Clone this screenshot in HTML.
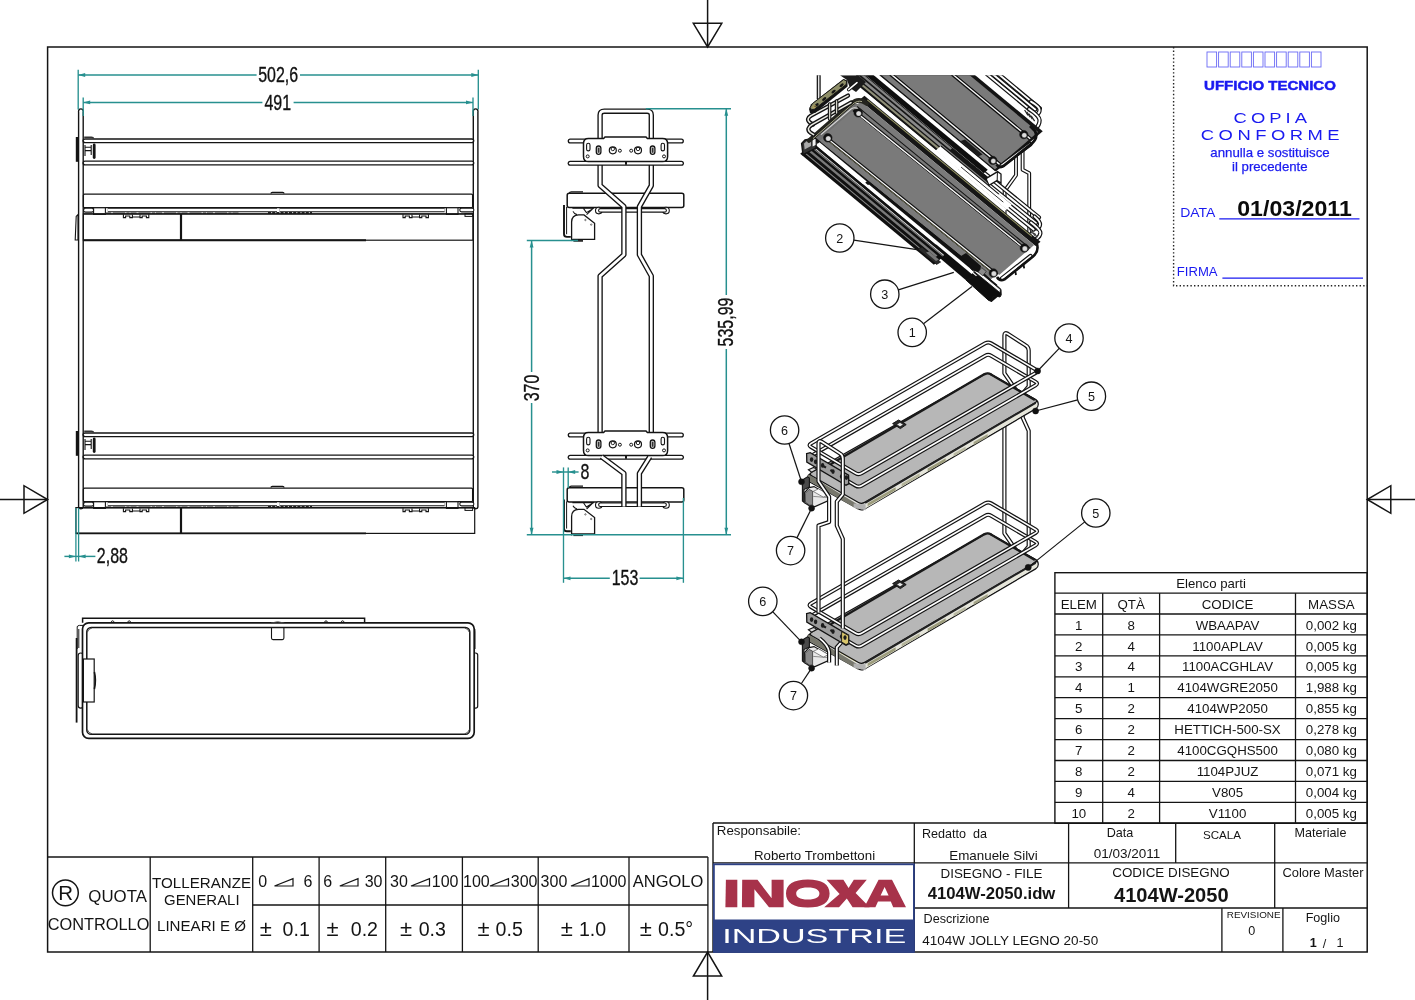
<!DOCTYPE html>
<html><head><meta charset="utf-8"><title>4104W-2050</title>
<style>
html,body{margin:0;padding:0;background:#fff;}
body{width:1415px;height:1000px;overflow:hidden;font-family:"Liberation Sans",sans-serif;}
svg{display:block;font-family:"Liberation Sans",sans-serif;will-change:transform;}
</style></head><body>
<svg width="1415" height="1000" viewBox="0 0 1415 1000">
<rect x="0" y="0" width="1415" height="1000" fill="#ffffff"/>
<clipPath id="isoclip"><rect x="780" y="75.3" width="300" height="260"/></clipPath>
<g clip-path="url(#isoclip)">
<path d="M942.9,37.5 L1030.3,110.0" fill="none" stroke="#141414" stroke-width="4.3" stroke-linejoin="round" stroke-linecap="round"/>
<path d="M942.9,37.5 L1030.3,110.0" fill="none" stroke="#fff" stroke-width="1.9" stroke-linejoin="round" stroke-linecap="round"/>
<path d="M945.6,35.2 L1035.2,109.5" fill="none" stroke="#141414" stroke-width="4.3" stroke-linejoin="round" stroke-linecap="round"/>
<path d="M945.6,35.2 L1035.2,109.5" fill="none" stroke="#fff" stroke-width="1.9" stroke-linejoin="round" stroke-linecap="round"/>
<path d="M948.6,32.6 L1039.8,108.4" fill="none" stroke="#141414" stroke-width="4.3" stroke-linejoin="round" stroke-linecap="round"/>
<path d="M948.6,32.6 L1039.8,108.4" fill="none" stroke="#fff" stroke-width="1.9" stroke-linejoin="round" stroke-linecap="round"/>
<path d="M1031.0,101.6 Q1039.6,106.6 1039.6,110.0 Q1039.6,113.0 1036.6,114.6" fill="none" stroke="#141414" stroke-width="4.3" stroke-linejoin="round" stroke-linecap="round"/>
<path d="M1031.0,101.6 Q1039.6,106.6 1039.6,110.0 Q1039.6,113.0 1036.6,114.6" fill="none" stroke="#fff" stroke-width="1.9" stroke-linejoin="round" stroke-linecap="round"/>
<path d="M1029.0,109.0 Q1039.4,116.0 1039.6,120.0 Q1039.6,125.0 1035.6,128.6" fill="none" stroke="#141414" stroke-width="4.3" stroke-linejoin="round" stroke-linecap="round"/>
<path d="M1029.0,109.0 Q1039.4,116.0 1039.6,120.0 Q1039.6,125.0 1035.6,128.6" fill="none" stroke="#fff" stroke-width="1.9" stroke-linejoin="round" stroke-linecap="round"/>
<line x1="1024.60" y1="110.00" x2="1028.00" y2="115.40" stroke="#222" stroke-width="1.2" />
<line x1="1026.80" y1="111.90" x2="1030.20" y2="117.30" stroke="#222" stroke-width="1.2" />
<line x1="1029.00" y1="113.80" x2="1032.40" y2="119.20" stroke="#222" stroke-width="1.2" />
<line x1="1031.20" y1="115.70" x2="1034.60" y2="121.10" stroke="#222" stroke-width="1.2" />
<path d="M1016.0,156.0 V175.2 L1004.6,191.0 V214.0" fill="none" stroke="#141414" stroke-width="3.9" stroke-linejoin="round" stroke-linecap="round"/>
<path d="M1016.0,156.0 V175.2 L1004.6,191.0 V214.0" fill="none" stroke="#fff" stroke-width="1.6" stroke-linejoin="round" stroke-linecap="round"/>
<path d="M1022.6,150.0 V169.8 L1029.2,173.2 V232.0" fill="none" stroke="#141414" stroke-width="3.9" stroke-linejoin="round" stroke-linecap="round"/>
<path d="M1022.6,150.0 V169.8 L1029.2,173.2 V232.0" fill="none" stroke="#fff" stroke-width="1.6" stroke-linejoin="round" stroke-linecap="round"/>
<path d="M976.5,166.7 L1038.9,217.3" fill="none" stroke="#141414" stroke-width="4.3" stroke-linejoin="round" stroke-linecap="round"/>
<path d="M976.5,166.7 L1038.9,217.3" fill="none" stroke="#fff" stroke-width="1.9" stroke-linejoin="round" stroke-linecap="round"/>
<path d="M971.7,170.9 L1035.9,222.9" fill="none" stroke="#141414" stroke-width="4.3" stroke-linejoin="round" stroke-linecap="round"/>
<path d="M971.7,170.9 L1035.9,222.9" fill="none" stroke="#fff" stroke-width="1.9" stroke-linejoin="round" stroke-linecap="round"/>
<path d="M960.0,169.8 L1033.7,229.5" fill="none" stroke="#141414" stroke-width="4.3" stroke-linejoin="round" stroke-linecap="round"/>
<path d="M960.0,169.8 L1033.7,229.5" fill="none" stroke="#fff" stroke-width="1.9" stroke-linejoin="round" stroke-linecap="round"/>
<path d="M1034.6,216.6 Q1040.4,221.6 1040.0,224.6 Q1039.6,227.6 1036.6,228.4" fill="none" stroke="#141414" stroke-width="4.3" stroke-linejoin="round" stroke-linecap="round"/>
<path d="M1034.6,216.6 Q1040.4,221.6 1040.0,224.6 Q1039.6,227.6 1036.6,228.4" fill="none" stroke="#fff" stroke-width="1.9" stroke-linejoin="round" stroke-linecap="round"/>
<path d="M1031.0,222.4 Q1040.6,229.6 1040.4,233.0 Q1040.0,236.6 1036.6,238.6" fill="none" stroke="#141414" stroke-width="4.3" stroke-linejoin="round" stroke-linecap="round"/>
<path d="M1031.0,222.4 Q1040.6,229.6 1040.4,233.0 Q1040.0,236.6 1036.6,238.6" fill="none" stroke="#fff" stroke-width="1.9" stroke-linejoin="round" stroke-linecap="round"/>
<line x1="1029.60" y1="229.00" x2="1032.40" y2="233.60" stroke="#333" stroke-width="1.1" />
<line x1="1032.00" y1="231.00" x2="1034.80" y2="235.60" stroke="#333" stroke-width="1.1" />
<line x1="1034.40" y1="233.00" x2="1037.20" y2="237.60" stroke="#333" stroke-width="1.1" />
<path d="M895.74,9.26 L1042.77,131.30 L995.91,171.60 L848.88,49.57 Z" fill="#141414" stroke="none" stroke-width="0" />
<path d="M893.02,11.60 L1038.03,131.97 L1031.52,137.57 L886.51,17.20 Z" fill="#7a7a7a" stroke="none" stroke-width="0" />
<path d="M886.39,17.30 L1031.41,137.67 L1028.92,139.80 L883.91,19.44 Z" fill="#0c0c0c" stroke="none" stroke-width="0" />
<path d="M885.68,17.91 L1030.70,138.28 L1029.69,139.14 L884.67,18.78 Z" fill="#f8f8f8" stroke="none" stroke-width="0" />
<path d="M883.67,19.64 L1028.68,140.01 L1001.35,163.52 L856.33,43.16 Z" fill="#7a7a7a" stroke="none" stroke-width="0" />
<path d="M856.21,43.26 L1001.23,163.62 L998.62,165.86 L853.61,45.50 Z" fill="#0c0c0c" stroke="none" stroke-width="0" />
<path d="M855.50,43.87 L1000.52,164.23 L999.39,165.20 L854.38,44.83 Z" fill="#f8f8f8" stroke="none" stroke-width="0" />
<path d="M853.37,45.70 L998.58,166.22 L994.79,169.48 L849.59,48.96 Z" fill="#7a7a7a" stroke="none" stroke-width="0" />
<path d="M848.88,49.57 L994.15,170.15 L991.20,172.69 L845.92,52.11 Z" fill="#ffffff" stroke="none" stroke-width="0" />
<line x1="849.11" y1="49.36" x2="995.24" y2="170.65" stroke="#141414" stroke-width="1.2" />
<path d="M845.92,52.11 L987.79,169.86 L983.76,173.32 L841.89,55.57 Z" fill="#0e0e0e" stroke="none" stroke-width="0" />
<path d="M861.05,71.47 L991.38,179.65 L981.56,188.10 L851.23,79.92 Z" fill="#151515" stroke="none" stroke-width="0" />
<path d="M860.34,72.08 L952.07,148.22 L950.41,149.64 L858.68,73.51 Z" fill="#858585" stroke="none" stroke-width="0" />
<path d="M857.38,74.63 L987.72,182.80 L985.70,184.53 L855.37,76.36 Z" fill="#8a8a8a" stroke="none" stroke-width="0" />
<path d="M854.42,77.17 L984.76,185.35 L983.10,186.77 L852.77,78.60 Z" fill="#8f8f78" stroke="none" stroke-width="0" />
<path d="M940.96,146.00 L1011.83,204.82 L1006.51,209.40 L935.63,150.58 Z" fill="#ffffff" stroke="none" stroke-width="0" />
<line x1="940.96" y1="146.00" x2="998.89" y2="194.08" stroke="#141414" stroke-width="1.1" />
<line x1="961.07" y1="167.08" x2="1003.31" y2="202.15" stroke="#333" stroke-width="1.0" />
<path d="M986.00,178.60 L997.60,171.60 L1001.00,174.00 L1001.00,183.00 L997.00,180.60 L989.00,185.40 Z" fill="#fff" stroke="#141414" stroke-width="1.3" />
<line x1="997.40" y1="172.00" x2="997.20" y2="180.60" stroke="#141414" stroke-width="1.0" />
<path d="M1001.6,165.6 L1030.0,144.4" fill="none" stroke="#141414" stroke-width="4.8" stroke-linejoin="round" stroke-linecap="round"/>
<path d="M1001.6,165.6 L1030.0,144.4" fill="none" stroke="#fff" stroke-width="2.0" stroke-linejoin="round" stroke-linecap="round"/>
<path d="M996.6,164.6 Q998.8,168.4 1003.4,166.0 L1032.0,143.4 Q1038.4,137.6 1035.0,131.0 L1030.0,126.0" fill="none" stroke="#111" stroke-width="2.8" />
<circle cx="1023.80" cy="134.60" r="4.20" fill="#111" stroke="#141414" stroke-width="0.5"/>
<circle cx="1024.30" cy="135.30" r="2.50" fill="#dcdcdc" stroke="#141414" stroke-width="0.3"/>
<circle cx="992.80" cy="160.40" r="4.20" fill="#111" stroke="#141414" stroke-width="0.5"/>
<circle cx="993.30" cy="161.10" r="2.50" fill="#dcdcdc" stroke="#141414" stroke-width="0.3"/>
<path d="M960.60,141.00 L965.00,139.60 L982.60,154.60 L978.00,156.60 Z" fill="#1b1b1b" stroke="none" stroke-width="0" />
<path d="M865.14,91.86 L1006.63,209.30 L1003.91,211.64 L862.41,94.20 Z" fill="#ffffff" stroke="none" stroke-width="0" />
<path d="M810.00,141.00 L853.00,103.40 L866.00,105.00 L858.00,113.00 L826.00,139.00 L816.00,146.00 Z" fill="#6f6f6f" stroke="none" stroke-width="0" />
<path d="M864.41,95.66 L1040.52,241.83 L1035.55,246.11 L859.44,99.94 Z" fill="#161616" stroke="none" stroke-width="0" />
<path d="M867.67,99.56 L1032.19,236.12 L1031.48,236.73 L866.96,100.18 Z" fill="#9a9a68" stroke="none" stroke-width="0" />
<path d="M860.99,101.23 L1034.12,244.92 L1028.06,250.13 L852.86,108.22 Z" fill="#7a7a7a" stroke="none" stroke-width="0" />
<line x1="857.12" y1="106.44" x2="1030.15" y2="248.33" stroke="#141414" stroke-width="1.1" />
<path d="M854.86,108.94 L1028.60,249.67 L1025.84,252.03 L852.11,111.31 Z" fill="#0c0c0c" stroke="none" stroke-width="0" />
<path d="M857.41,112.50 L1022.71,246.39 L1021.69,247.27 L856.40,113.38 Z" fill="#f8f8f8" stroke="none" stroke-width="0" />
<path d="M852.45,111.08 L1026.14,251.78 L999.19,274.95 L824.87,134.80 Z" fill="#7a7a7a" stroke="none" stroke-width="0" />
<path d="M827.56,136.26 L998.26,273.50 L995.07,276.24 L824.38,139.00 Z" fill="#0c0c0c" stroke="none" stroke-width="0" />
<path d="M828.45,138.47 L993.22,270.95 L992.20,271.83 L827.43,139.35 Z" fill="#f8f8f8" stroke="none" stroke-width="0" />
<path d="M827.07,139.66 L991.84,272.14 L991.48,272.45 L826.71,139.97 Z" fill="#9a9a68" stroke="none" stroke-width="0" />
<path d="M823.39,137.81 L994.95,275.74 L990.66,279.43 L819.71,140.97 Z" fill="#7a7a7a" stroke="none" stroke-width="0" />
<path d="M815.16,137.28 L997.34,284.85 L992.88,288.69 L812.85,139.27 Z" fill="#111" stroke="none" stroke-width="0" />
<path d="M813.11,142.68 L946.77,253.62 L933.87,264.71 L800.21,153.77 Z" fill="#101010" stroke="none" stroke-width="0" />
<path d="M937.16,243.84 L999.31,295.43 L991.60,302.06 L930.18,249.85 Z" fill="#0e0e0e" stroke="none" stroke-width="0" />
<path d="M819.47,142.16 L866.75,181.40 L863.32,184.35 L816.04,145.11 Z" fill="#ffffff" stroke="none" stroke-width="0" />
<path d="M868.93,184.41 L974.14,271.74 L971.66,273.88 L866.45,186.55 Z" fill="#ffffff" stroke="none" stroke-width="0" />
<path d="M810.98,144.51 L944.12,255.02 L943.41,255.63 L810.27,145.12 Z" fill="#e0e0e0" stroke="none" stroke-width="0" />
<path d="M810.15,145.23 L943.29,255.73 L942.46,256.44 L809.32,145.94 Z" fill="#7a7a7a" stroke="none" stroke-width="0" />
<path d="M807.43,147.57 L937.51,255.54 L935.74,257.06 L805.65,149.09 Z" fill="#7a7a7a" stroke="none" stroke-width="0" />
<path d="M803.41,151.03 L931.46,257.31 L930.75,257.92 L802.70,151.64 Z" fill="#8a8a8a" stroke="none" stroke-width="0" />
<path d="M801.60,143.60 L805.00,140.00 L812.60,138.60 L816.00,142.00 L816.00,148.00 L803.00,154.60 Z" fill="#333" stroke="#141414" stroke-width="1.4" />
<path d="M804.00,143.60 L807.00,141.00 L811.00,140.60 L811.00,146.00 L804.60,149.60 Z" fill="#aaa" stroke="none" stroke-width="0" />
<path d="M812.60,139.40 L815.60,139.00 L815.60,145.00 L812.60,146.40 Z" fill="#f0f0f0" stroke="none" stroke-width="0" />
<path d="M966.00,280.00 L988.60,300.40 L991.60,301.40 L992.60,296.80 L996.00,296.00 L1000.00,297.00 L1001.20,295.00 L1001.00,289.40 L984.00,273.60 Z" fill="#0e0e0e" stroke="#141414" stroke-width="1.0" />
<path d="M970.60,268.60 L972.80,266.40 L1000.40,289.40 L1000.00,292.80 Z" fill="#f6f6f6" stroke="#141414" stroke-width="0.9" />
<path d="M961.00,256.00 L966.00,253.00 L981.00,266.00 L979.60,273.00 L972.00,270.00 Z" fill="#121212" stroke="none" stroke-width="0" />
<rect x="979.60" y="268.60" width="6.00" height="5.60" rx="0" fill="#8a8a8a" stroke="#222" stroke-width="0.6" transform="rotate(40 982 271)"/>
<path d="M917.60,249.00 L922.00,247.00 L940.60,262.00 L936.60,264.40 Z" fill="#2a2a2a" stroke="#141414" stroke-width="0.8" />
<path d="M926.00,252.60 L929.00,251.40 L939.00,259.60 L936.00,261.00 Z" fill="#777" stroke="none" stroke-width="0" />
<path d="M1002.0,278.4 L1030.6,256.0" fill="none" stroke="#141414" stroke-width="4.4" stroke-linejoin="round" stroke-linecap="round"/>
<path d="M1002.0,278.4 L1030.6,256.0" fill="none" stroke="#fff" stroke-width="2.0" stroke-linejoin="round" stroke-linecap="round"/>
<path d="M997.0,277.0 Q999.6,281.6 1004.6,279.4 L1033.0,256.6 Q1039.6,250.6 1036.6,243.0" fill="none" stroke="#111" stroke-width="2.6" />
<line x1="1015.40" y1="271.60" x2="1016.00" y2="275.00" stroke="#111" stroke-width="1.8" />
<line x1="1023.60" y1="265.00" x2="1024.20" y2="268.40" stroke="#111" stroke-width="1.8" />
<circle cx="858.20" cy="112.80" r="4.30" fill="#111" stroke="#141414" stroke-width="0.5"/>
<circle cx="858.70" cy="113.50" r="2.60" fill="#dcdcdc" stroke="#141414" stroke-width="0.3"/>
<circle cx="827.80" cy="137.80" r="4.30" fill="#111" stroke="#141414" stroke-width="0.5"/>
<circle cx="828.30" cy="138.50" r="2.60" fill="#dcdcdc" stroke="#141414" stroke-width="0.3"/>
<circle cx="1024.40" cy="248.00" r="4.30" fill="#111" stroke="#141414" stroke-width="0.5"/>
<circle cx="1024.90" cy="248.70" r="2.60" fill="#dcdcdc" stroke="#141414" stroke-width="0.3"/>
<circle cx="993.40" cy="273.00" r="4.30" fill="#111" stroke="#141414" stroke-width="0.5"/>
<circle cx="993.90" cy="273.70" r="2.60" fill="#dcdcdc" stroke="#141414" stroke-width="0.3"/>
<path d="M809.0,140.6 L851.0,104.0 Q858.6,97.0 866.6,103.6" fill="none" stroke="#24241e" stroke-width="4.4" stroke-linecap="round"/>
<path d="M813.0,138.6 L852.0,104.6 Q857.6,100.0 862.0,101.6" fill="none" stroke="#a8a88a" stroke-width="1.0" />
<path d="M821.0,134.6 L851.0,109.0 Q854.6,106.6 857.6,108.6" fill="none" stroke="#d8d8d8" stroke-width="1.1" />
<path d="M818.7,75.0 V99.0" fill="none" stroke="#141414" stroke-width="4.0" stroke-linecap="butt"/>
<path d="M818.7,75.0 V99.0" fill="none" stroke="#e4e4e4" stroke-width="1.5" stroke-linecap="butt"/>
<path d="M848.0,95.6 L811.0,115.6 Q805.6,119.0 810.0,122.6 L813.0,124.6" fill="none" stroke="#141414" stroke-width="4.3" stroke-linejoin="round" stroke-linecap="round"/>
<path d="M848.0,95.6 L811.0,115.6 Q805.6,119.0 810.0,122.6 L813.0,124.6" fill="none" stroke="#ecece4" stroke-width="1.6" stroke-linejoin="round" stroke-linecap="round"/>
<path d="M851.0,102.6 L812.0,124.6 Q805.6,128.6 810.4,132.6 L813.6,134.6" fill="none" stroke="#141414" stroke-width="4.3" stroke-linejoin="round" stroke-linecap="round"/>
<path d="M851.0,102.6 L812.0,124.6 Q805.6,128.6 810.4,132.6 L813.6,134.6" fill="none" stroke="#ecece4" stroke-width="1.6" stroke-linejoin="round" stroke-linecap="round"/>
<path d="M829.6,104.0 V119.0 M836.6,101.0 V113.0" fill="none" stroke="#141414" stroke-width="3.6" stroke-linejoin="round" stroke-linecap="round"/>
<path d="M829.6,104.0 V119.0 M836.6,101.0 V113.0" fill="none" stroke="#d8d8cc" stroke-width="1.3" stroke-linejoin="round" stroke-linecap="round"/>
<path d="M809.00,109.00 L811.20,104.20 L843.40,79.00 L847.40,80.60 L847.60,86.60 L815.00,113.00 L810.00,113.00 Z" fill="#141414" stroke="none" stroke-width="0" />
<path d="M810.20,107.40 L812.40,103.60 L843.60,79.60 L846.60,81.00 L846.20,84.40 L814.40,109.20 L811.20,109.80 Z" fill="#8e8e68" stroke="#141414" stroke-width="0.9" />
<ellipse cx="816.6" cy="105.0" rx="2.5" ry="1.25" transform="rotate(-38 816.6 105.0)" fill="#151515"/>
<ellipse cx="824.2" cy="99.0" rx="2.5" ry="1.25" transform="rotate(-38 824.2 99.0)" fill="#151515"/>
<ellipse cx="833.6" cy="91.6" rx="2.5" ry="1.25" transform="rotate(-38 833.6 91.6)" fill="#151515"/>
<ellipse cx="841.6" cy="85.2" rx="2.5" ry="1.25" transform="rotate(-38 841.6 85.2)" fill="#151515"/>
<ellipse cx="814.4" cy="106.6" rx="1.6" ry="1.1" transform="rotate(-38 814.4 106.6)" fill="none" stroke="#c8a84e" stroke-width="0.7"/>
<path d="M840.00,75.30 L858.00,75.30 L866.00,82.00 L856.00,92.00 L850.00,88.00 L847.00,80.00 Z" fill="#1b1b1b" stroke="none" stroke-width="0" />
<path d="M848.6,89.6 L857.0,82.6" fill="none" stroke="#141414" stroke-width="3.4" stroke-linejoin="round" stroke-linecap="round"/>
<path d="M848.6,89.6 L857.0,82.6" fill="none" stroke="#fff" stroke-width="1.5" stroke-linejoin="round" stroke-linecap="round"/>
</g>
<line x1="853.84" y1="240.10" x2="918.60" y2="249.80" stroke="#141414" stroke-width="1.2" />
<circle cx="839.80" cy="238.00" r="14.20" fill="#fff" stroke="#141414" stroke-width="1.3"/>
<text x="839.80" y="242.60" font-size="12.6" text-anchor="middle" fill="#141414" font-weight="normal" >2</text>
<line x1="898.34" y1="289.92" x2="953.80" y2="272.40" stroke="#141414" stroke-width="1.2" />
<circle cx="884.80" cy="294.20" r="14.20" fill="#fff" stroke="#141414" stroke-width="1.3"/>
<text x="884.80" y="298.80" font-size="12.6" text-anchor="middle" fill="#141414" font-weight="normal" >3</text>
<line x1="923.47" y1="323.77" x2="972.00" y2="286.60" stroke="#141414" stroke-width="1.2" />
<circle cx="912.20" cy="332.40" r="14.20" fill="#fff" stroke="#141414" stroke-width="1.3"/>
<text x="912.20" y="337.00" font-size="12.6" text-anchor="middle" fill="#141414" font-weight="normal" >1</text>
<path d="M1015.0,412.0 V388.8 L1004.4,373.2 V335.4 Q1004.4,332.0 1007.6,333.7 L1025.5,345.3 Q1028.7,347.0 1028.7,350.6 V386.4 L1022.7,393.6 V412.0" fill="none" stroke="#141414" stroke-width="4.2" stroke-linejoin="round" stroke-linecap="round"/>
<path d="M1015.0,412.0 V388.8 L1004.4,373.2 V335.4 Q1004.4,332.0 1007.6,333.7 L1025.5,345.3 Q1028.7,347.0 1028.7,350.6 V386.4 L1022.7,393.6 V412.0" fill="none" stroke="#fff" stroke-width="1.8" stroke-linejoin="round" stroke-linecap="round"/>
<path d="M1015.0,402.0 V414.0 L1004.4,417.6 V533.2 L1015.0,548.8 V572.0" fill="none" stroke="#141414" stroke-width="4.2" stroke-linejoin="round" stroke-linecap="round"/>
<path d="M1015.0,402.0 V414.0 L1004.4,417.6 V533.2 L1015.0,548.8 V572.0" fill="none" stroke="#fff" stroke-width="1.8" stroke-linejoin="round" stroke-linecap="round"/>
<path d="M1022.7,402.0 V417.6 L1028.7,430.79999999999995 V546.4 L1022.7,553.6 V572.0" fill="none" stroke="#141414" stroke-width="4.2" stroke-linejoin="round" stroke-linecap="round"/>
<path d="M1022.7,402.0 V417.6 L1028.7,430.79999999999995 V546.4 L1022.7,553.6 V572.0" fill="none" stroke="#fff" stroke-width="1.8" stroke-linejoin="round" stroke-linecap="round"/>
<path d="M808.98,474.14 Q811.60,475.60 814.19,474.08 L985.01,374.12 Q987.60,372.60 990.22,374.07 L1035.58,399.53 Q1038.20,401.00 1038.20,404.00 L1038.20,404.40 Q1038.20,407.40 1035.61,408.91 L864.19,509.09 Q861.60,510.60 858.97,509.15 L810.63,482.45 Q808.00,481.00 808.00,478.00 L808.00,476.60 Q808.00,473.60 810.62,475.06 Z" fill="#e4e4e0" stroke="#141414" stroke-width="1.3" />
<path d="M864.60,505.40 L1037.20,403.00 L1037.20,406.60 L864.60,509.00 Z" fill="#e6e6da" stroke="none" stroke-width="0" />
<path d="M867.60,503.33 L895.60,487.13 L895.60,490.13 L867.60,506.33 Z" fill="#9c9c7c" stroke="none" stroke-width="0" />
<path d="M901.60,483.66 L919.60,473.25 L919.60,476.25 L901.60,486.66 Z" fill="#b4b49a" stroke="none" stroke-width="0" />
<path d="M927.60,468.62 L945.60,458.21 L945.60,461.21 L927.60,471.62 Z" fill="#9c9c7c" stroke="none" stroke-width="0" />
<path d="M953.60,453.58 L965.60,446.64 L965.60,449.64 L953.60,456.58 Z" fill="#b9b9a2" stroke="none" stroke-width="0" />
<path d="M973.60,442.01 L987.60,433.91 L987.60,436.91 L973.60,445.01 Z" fill="#a4a488" stroke="none" stroke-width="0" />
<path d="M808.20,474.20 L858.60,505.00 L858.60,510.00 L808.20,480.40 Z" fill="#77776c" stroke="none" stroke-width="0" />
<path d="M853.60,503.60 L865.60,504.20 L865.60,510.20 L853.60,507.80 Z" fill="#b2b2b2" stroke="none" stroke-width="0" />
<path d="M811.73,475.78 Q808.60,474.00 811.73,472.23 L984.47,374.37 Q987.60,372.60 990.74,374.36 L1035.06,399.24 Q1038.20,401.00 1035.09,402.82 L864.71,502.38 Q861.60,504.20 858.47,502.42 Z" fill="#b7b7b7" stroke="#141414" stroke-width="1.2" />
<line x1="830.60" y1="464.20" x2="985.00" y2="373.80" stroke="#1a1a1a" stroke-width="2.3" />
<path d="M984.2,374.5 Q987.6,372.20000000000005 991.2,374.40000000000003" fill="none" stroke="#1a1a1a" stroke-width="2.3" />
<line x1="865.10" y1="502.80" x2="1035.60" y2="402.90" stroke="#222" stroke-width="2.0" />
<line x1="990.60" y1="374.20" x2="1034.80" y2="400.00" stroke="#1a1a1a" stroke-width="2.2" />
<path d="M892.60,423.60 L898.60,420.00 L906.20,424.60 L900.40,428.60 Z" fill="#2a2a2a" stroke="#141414" stroke-width="1.0" />
<path d="M896.60,424.40 L900.00,422.40 L903.40,424.60 L900.00,426.80 Z" fill="#e8e8e8" stroke="#111" stroke-width="0.6" />
<path d="M810.93,459.33 Q808.00,457.60 810.95,455.91 L985.25,355.69 Q988.20,354.00 991.13,355.72 L1035.67,381.88 Q1038.60,383.60 1035.65,385.30 L861.55,485.70 Q858.60,487.40 855.67,485.67 Z" fill="none" stroke="#141414" stroke-width="4.0" stroke-linejoin="round" stroke-linecap="round"/>
<path d="M810.93,459.33 Q808.00,457.60 810.95,455.91 L985.25,355.69 Q988.20,354.00 991.13,355.72 L1035.67,381.88 Q1038.60,383.60 1035.65,385.30 L861.55,485.70 Q858.60,487.40 855.67,485.67 Z" fill="none" stroke="#fff" stroke-width="1.6" stroke-linejoin="round" stroke-linecap="round"/>
<path d="M810.93,446.93 Q808.00,445.20 810.95,443.51 L985.25,343.29 Q988.20,341.60 991.13,343.32 L1035.67,369.48 Q1038.60,371.20 1035.65,372.90 L861.55,473.30 Q858.60,475.00 855.67,473.27 Z" fill="none" stroke="#141414" stroke-width="4.0" stroke-linejoin="round" stroke-linecap="round"/>
<path d="M810.93,446.93 Q808.00,445.20 810.95,443.51 L985.25,343.29 Q988.20,341.60 991.13,343.32 L1035.67,369.48 Q1038.60,371.20 1035.65,372.90 L861.55,473.30 Q858.60,475.00 855.67,473.27 Z" fill="none" stroke="#fff" stroke-width="1.6" stroke-linejoin="round" stroke-linecap="round"/>
<path d="M808.98,634.14 Q811.60,635.60 814.19,634.08 L985.01,534.12 Q987.60,532.60 990.22,534.07 L1035.58,559.53 Q1038.20,561.00 1038.20,564.00 L1038.20,564.40 Q1038.20,567.40 1035.61,568.91 L864.19,669.09 Q861.60,670.60 858.97,669.15 L810.63,642.45 Q808.00,641.00 808.00,638.00 L808.00,636.60 Q808.00,633.60 810.62,635.06 Z" fill="#e4e4e0" stroke="#141414" stroke-width="1.3" />
<path d="M864.60,665.40 L1037.20,563.00 L1037.20,566.60 L864.60,669.00 Z" fill="#e6e6da" stroke="none" stroke-width="0" />
<path d="M867.60,663.33 L895.60,647.13 L895.60,650.13 L867.60,666.33 Z" fill="#9c9c7c" stroke="none" stroke-width="0" />
<path d="M901.60,643.66 L919.60,633.25 L919.60,636.25 L901.60,646.66 Z" fill="#b4b49a" stroke="none" stroke-width="0" />
<path d="M927.60,628.62 L945.60,618.21 L945.60,621.21 L927.60,631.62 Z" fill="#9c9c7c" stroke="none" stroke-width="0" />
<path d="M953.60,613.58 L965.60,606.64 L965.60,609.64 L953.60,616.58 Z" fill="#b9b9a2" stroke="none" stroke-width="0" />
<path d="M973.60,602.01 L987.60,593.91 L987.60,596.91 L973.60,605.01 Z" fill="#a4a488" stroke="none" stroke-width="0" />
<path d="M808.20,634.20 L858.60,665.00 L858.60,670.00 L808.20,640.40 Z" fill="#77776c" stroke="none" stroke-width="0" />
<path d="M853.60,663.60 L865.60,664.20 L865.60,670.20 L853.60,667.80 Z" fill="#b2b2b2" stroke="none" stroke-width="0" />
<path d="M836.00,645.40 L856.00,657.00 L856.00,662.00 L836.00,650.40 Z" fill="#e6d878" stroke="none" stroke-width="0" />
<path d="M811.73,635.78 Q808.60,634.00 811.73,632.23 L984.47,534.37 Q987.60,532.60 990.74,534.36 L1035.06,559.24 Q1038.20,561.00 1035.09,562.82 L864.71,662.38 Q861.60,664.20 858.47,662.42 Z" fill="#b7b7b7" stroke="#141414" stroke-width="1.2" />
<line x1="830.60" y1="624.20" x2="985.00" y2="533.80" stroke="#1a1a1a" stroke-width="2.3" />
<path d="M984.2,534.5 Q987.6,532.2 991.2,534.4" fill="none" stroke="#1a1a1a" stroke-width="2.3" />
<line x1="865.10" y1="662.80" x2="1035.60" y2="562.90" stroke="#222" stroke-width="2.0" />
<line x1="990.60" y1="534.20" x2="1034.80" y2="560.00" stroke="#1a1a1a" stroke-width="2.2" />
<path d="M892.60,583.60 L898.60,580.00 L906.20,584.60 L900.40,588.60 Z" fill="#2a2a2a" stroke="#141414" stroke-width="1.0" />
<path d="M896.60,584.40 L900.00,582.40 L903.40,584.60 L900.00,586.80 Z" fill="#e8e8e8" stroke="#111" stroke-width="0.6" />
<path d="M810.93,619.33 Q808.00,617.60 810.95,615.91 L985.25,515.69 Q988.20,514.00 991.13,515.72 L1035.67,541.88 Q1038.60,543.60 1035.65,545.30 L861.55,645.70 Q858.60,647.40 855.67,645.67 Z" fill="none" stroke="#141414" stroke-width="4.0" stroke-linejoin="round" stroke-linecap="round"/>
<path d="M810.93,619.33 Q808.00,617.60 810.95,615.91 L985.25,515.69 Q988.20,514.00 991.13,515.72 L1035.67,541.88 Q1038.60,543.60 1035.65,545.30 L861.55,645.70 Q858.60,647.40 855.67,645.67 Z" fill="none" stroke="#fff" stroke-width="1.6" stroke-linejoin="round" stroke-linecap="round"/>
<path d="M810.93,606.93 Q808.00,605.20 810.95,603.51 L985.25,503.29 Q988.20,501.60 991.13,503.32 L1035.67,529.48 Q1038.60,531.20 1035.65,532.90 L861.55,633.30 Q858.60,635.00 855.67,633.27 Z" fill="none" stroke="#141414" stroke-width="4.0" stroke-linejoin="round" stroke-linecap="round"/>
<path d="M810.93,606.93 Q808.00,605.20 810.95,603.51 L985.25,503.29 Q988.20,501.60 991.13,503.32 L1035.67,529.48 Q1038.60,531.20 1035.65,532.90 L861.55,633.30 Q858.60,635.00 855.67,633.27 Z" fill="none" stroke="#fff" stroke-width="1.6" stroke-linejoin="round" stroke-linecap="round"/>
<path d="M808.40,469.80 L813.60,467.40 L816.60,469.40 L811.60,472.20 Z" fill="#ddd" stroke="#141414" stroke-width="1.1" />
<path d="M802.40,480.00 L807.40,476.80 L809.40,478.00 L809.40,487.00 L804.00,489.60 L804.00,502.40 L802.40,501.00 Z" fill="#4a4a4a" stroke="#141414" stroke-width="1.1" />
<path d="M804.60,492.60 L809.00,487.60 L814.00,486.60 L829.00,495.00 L829.00,500.40 L815.00,506.60 L809.60,506.00 L804.80,502.80 Z" fill="#e9e9e9" stroke="#141414" stroke-width="1.2" />
<path d="M805.20,493.40 L809.20,489.40 L812.60,491.20 L812.60,505.20 L809.60,505.20 L805.40,502.20 Z" fill="#8a8a8a" stroke="#333" stroke-width="0.8" />
<path d="M813.20,491.40 L818.60,488.80 L828.40,494.60 L823.40,497.20 Z" fill="#fafafa" stroke="#555" stroke-width="0.7" />
<line x1="813.20" y1="496.40" x2="828.60" y2="497.60" stroke="#777" stroke-width="0.8" />
<circle cx="801.50" cy="481.80" r="3.00" fill="#111" stroke="#141414" stroke-width="0.5"/>
<circle cx="811.60" cy="508.20" r="3.00" fill="#111" stroke="#141414" stroke-width="0.5"/>
<path d="M808.40,629.80 L813.60,627.40 L816.60,629.40 L811.60,632.20 Z" fill="#ddd" stroke="#141414" stroke-width="1.1" />
<path d="M802.40,640.00 L807.40,636.80 L809.40,638.00 L809.40,647.00 L804.00,649.60 L804.00,662.40 L802.40,661.00 Z" fill="#4a4a4a" stroke="#141414" stroke-width="1.1" />
<path d="M804.60,652.60 L809.00,647.60 L814.00,646.60 L829.00,655.00 L829.00,660.40 L815.00,666.60 L809.60,666.00 L804.80,662.80 Z" fill="#e9e9e9" stroke="#141414" stroke-width="1.2" />
<path d="M805.20,653.40 L809.20,649.40 L812.60,651.20 L812.60,665.20 L809.60,665.20 L805.40,662.20 Z" fill="#8a8a8a" stroke="#333" stroke-width="0.8" />
<path d="M813.20,651.40 L818.60,648.80 L828.40,654.60 L823.40,657.20 Z" fill="#fafafa" stroke="#555" stroke-width="0.7" />
<line x1="813.20" y1="656.40" x2="828.60" y2="657.60" stroke="#777" stroke-width="0.8" />
<circle cx="801.50" cy="641.80" r="3.00" fill="#111" stroke="#141414" stroke-width="0.5"/>
<circle cx="811.60" cy="668.20" r="3.00" fill="#111" stroke="#141414" stroke-width="0.5"/>
<path d="M819.5,638.4 Q828.1,645.0 829.1,652.0 V662.4" fill="none" stroke="#141414" stroke-width="4.2" stroke-linecap="butt"/>
<path d="M819.5,638.4 Q828.1,645.0 829.1,652.0 V662.4" fill="none" stroke="#fff" stroke-width="1.8" stroke-linecap="butt"/>
<path d="M842.1999999999999,641.4 L836.8,647.4 V665.6" fill="none" stroke="#141414" stroke-width="4.2" stroke-linecap="butt"/>
<path d="M842.1999999999999,641.4 L836.8,647.4 V665.6" fill="none" stroke="#fff" stroke-width="1.8" stroke-linecap="butt"/>
<path d="M806.60,453.60 L810.20,452.60 L848.60,475.20 L848.80,483.80 L846.00,485.20 L806.80,462.00 Z" fill="#9c9c9c" stroke="#141414" stroke-width="1.3" />
<ellipse cx="811.6" cy="459.6" rx="1.7" ry="2.4" fill="#1c1c1c"/>
<ellipse cx="815.6" cy="461.8" rx="1.7" ry="2.4" fill="#1c1c1c"/>
<ellipse cx="822.6" cy="465.4" rx="1.7" ry="2.4" fill="#1c1c1c"/>
<ellipse cx="833.0" cy="471.6" rx="1.7" ry="2.4" fill="#1c1c1c"/>
<ellipse cx="841.6" cy="476.6" rx="1.7" ry="2.4" fill="#1c1c1c"/>
<ellipse cx="846.4" cy="477.6" rx="1.7" ry="2.4" fill="#1c1c1c"/>
<line x1="822.60" y1="465.60" x2="826.00" y2="467.60" stroke="#1c1c1c" stroke-width="2.2" />
<line x1="830.40" y1="470.00" x2="833.40" y2="471.80" stroke="#1c1c1c" stroke-width="2.2" />
<path d="M806.60,613.60 L810.20,612.60 L848.60,635.20 L848.80,643.80 L846.00,645.20 L806.80,622.00 Z" fill="#9c9c9c" stroke="#141414" stroke-width="1.3" />
<ellipse cx="811.6" cy="619.6" rx="1.7" ry="2.4" fill="#1c1c1c"/>
<ellipse cx="815.6" cy="621.8" rx="1.7" ry="2.4" fill="#1c1c1c"/>
<ellipse cx="822.6" cy="625.4" rx="1.7" ry="2.4" fill="#1c1c1c"/>
<ellipse cx="833.0" cy="631.6" rx="1.7" ry="2.4" fill="#1c1c1c"/>
<ellipse cx="841.6" cy="636.6" rx="1.7" ry="2.4" fill="#1c1c1c"/>
<ellipse cx="846.4" cy="637.6" rx="1.7" ry="2.4" fill="#1c1c1c"/>
<line x1="822.60" y1="625.60" x2="826.00" y2="627.60" stroke="#1c1c1c" stroke-width="2.2" />
<line x1="830.40" y1="630.00" x2="833.40" y2="631.80" stroke="#1c1c1c" stroke-width="2.2" />
<path d="M841.60,631.60 L848.60,635.60 L848.60,643.20 L846.00,644.60 L841.60,642.00 Z" fill="#d9c66c" stroke="#141414" stroke-width="0.9" />
<ellipse cx="845.0" cy="637.6" rx="1.6" ry="2.3" fill="#1c1c1c"/>
<path d="M818.5,612.6 V525.6 L829.1,522.0 V496.8 L818.5,481.2 V443.4 Q818.5,440.0 821.7,441.7 L839.5999999999999,453.3 Q842.8,455.0 842.8,458.6 V494.4 L836.8,501.6 V525.6 L842.8,538.8 V628.4" fill="none" stroke="#141414" stroke-width="4.2" stroke-linejoin="round" stroke-linecap="butt"/>
<path d="M818.5,612.6 V525.6 L829.1,522.0 V496.8 L818.5,481.2 V443.4 Q818.5,440.0 821.7,441.7 L839.5999999999999,453.3 Q842.8,455.0 842.8,458.6 V494.4 L836.8,501.6 V525.6 L842.8,538.8 V628.4" fill="none" stroke="#fff" stroke-width="1.8" stroke-linejoin="round" stroke-linecap="butt"/>
<line x1="1059.21" y1="348.29" x2="1037.60" y2="371.00" stroke="#141414" stroke-width="1.2" />
<circle cx="1069.00" cy="338.00" r="14.20" fill="#fff" stroke="#141414" stroke-width="1.3"/>
<text x="1069.00" y="342.60" font-size="12.6" text-anchor="middle" fill="#141414" font-weight="normal" >4</text>
<circle cx="1037.60" cy="371.00" r="3.10" fill="#111" stroke="#141414" stroke-width="0.4"/>
<line x1="1077.67" y1="399.84" x2="1035.60" y2="411.00" stroke="#141414" stroke-width="1.2" />
<circle cx="1091.40" cy="396.20" r="14.20" fill="#fff" stroke="#141414" stroke-width="1.3"/>
<text x="1091.40" y="400.80" font-size="12.6" text-anchor="middle" fill="#141414" font-weight="normal" >5</text>
<circle cx="1035.60" cy="411.00" r="3.10" fill="#111" stroke="#141414" stroke-width="0.4"/>
<line x1="789.00" y1="443.50" x2="801.50" y2="481.80" stroke="#141414" stroke-width="1.2" />
<circle cx="784.60" cy="430.00" r="14.20" fill="#fff" stroke="#141414" stroke-width="1.3"/>
<text x="784.60" y="434.60" font-size="12.6" text-anchor="middle" fill="#141414" font-weight="normal" >6</text>
<line x1="796.90" y1="537.88" x2="811.60" y2="508.20" stroke="#141414" stroke-width="1.2" />
<circle cx="790.60" cy="550.60" r="14.20" fill="#fff" stroke="#141414" stroke-width="1.3"/>
<text x="790.60" y="555.20" font-size="12.6" text-anchor="middle" fill="#141414" font-weight="normal" >7</text>
<line x1="1084.74" y1="521.90" x2="1028.20" y2="567.40" stroke="#141414" stroke-width="1.2" />
<circle cx="1095.80" cy="513.00" r="14.20" fill="#fff" stroke="#141414" stroke-width="1.3"/>
<text x="1095.80" y="517.60" font-size="12.6" text-anchor="middle" fill="#141414" font-weight="normal" >5</text>
<circle cx="1028.20" cy="567.40" r="3.10" fill="#111" stroke="#141414" stroke-width="0.4"/>
<line x1="772.62" y1="611.65" x2="801.50" y2="641.80" stroke="#141414" stroke-width="1.2" />
<circle cx="762.80" cy="601.40" r="14.20" fill="#fff" stroke="#141414" stroke-width="1.3"/>
<text x="762.80" y="606.00" font-size="12.6" text-anchor="middle" fill="#141414" font-weight="normal" >6</text>
<line x1="801.26" y1="683.77" x2="811.60" y2="668.20" stroke="#141414" stroke-width="1.2" />
<circle cx="793.40" cy="695.60" r="14.20" fill="#fff" stroke="#141414" stroke-width="1.3"/>
<text x="793.40" y="700.20" font-size="12.6" text-anchor="middle" fill="#141414" font-weight="normal" >7</text>
<path d="M80.9,506.4 V111.2" fill="none" stroke="#141414" stroke-width="6.0" stroke-linecap="round"/>
<path d="M80.9,506.4 V111.2" fill="none" stroke="#fff" stroke-width="3.2" stroke-linecap="round"/>
<path d="M475.6,506.4 V111.2" fill="none" stroke="#141414" stroke-width="6.0" stroke-linecap="round"/>
<path d="M475.6,506.4 V111.2" fill="none" stroke="#fff" stroke-width="3.2" stroke-linecap="round"/>
<path d="M85.0,140.8 H471.8" fill="none" stroke="#141414" stroke-width="5.1" stroke-linejoin="round" stroke-linecap="round"/>
<path d="M85.0,140.8 H471.8" fill="none" stroke="#fff" stroke-width="2.3" stroke-linejoin="round" stroke-linecap="round"/>
<path d="M85.0,163.0 H471.8" fill="none" stroke="#141414" stroke-width="5.1" stroke-linejoin="round" stroke-linecap="round"/>
<path d="M85.0,163.0 H471.8" fill="none" stroke="#fff" stroke-width="2.3" stroke-linejoin="round" stroke-linecap="round"/>
<line x1="77.00" y1="137.00" x2="77.00" y2="161.80" stroke="#141414" stroke-width="2.4" />
<path d="M84.2,137.2 H91.5 Q93.3,137.2 93.6,138.6" fill="none" stroke="#333" stroke-width="1.6" />
<path d="M85.0,145.0 V156.0 M85.0,147.2 H91.0 M85.0,150.6 H91.0 M91.2,145.0 V155.0" fill="none" stroke="#141414" stroke-width="1.1" />
<line x1="94.20" y1="145.00" x2="94.20" y2="157.60" stroke="#141414" stroke-width="2.8" stroke-linecap="round"/>
<rect x="83.40" y="194.00" width="389.20" height="13.70" rx="1.2" fill="none" stroke="#141414" stroke-width="1.25" />
<path d="M271,193.6 Q271,192.4 272.4,192.4 H282.6 Q284,192.4 284,193.6" fill="none" stroke="#141414" stroke-width="1.3" />
<path d="M85.6,210.2 H91.6" fill="none" stroke="#141414" stroke-width="5.0" stroke-linejoin="round" stroke-linecap="round"/>
<path d="M85.6,210.2 H91.6" fill="none" stroke="#fff" stroke-width="2.8" stroke-linejoin="round" stroke-linecap="round"/>
<rect x="93.60" y="207.80" width="11.80" height="6.60" rx="0" fill="#fff" stroke="#141414" stroke-width="1.1" />
<path d="M107.8,210.0 H277.0" fill="none" stroke="#141414" stroke-width="4.6" stroke-linecap="butt"/>
<path d="M107.8,210.0 H277.0" fill="none" stroke="#fff" stroke-width="2.4" stroke-linecap="butt"/>
<path d="M279.6,210.0 H444.6" fill="none" stroke="#141414" stroke-width="4.6" stroke-linecap="butt"/>
<path d="M279.6,210.0 H444.6" fill="none" stroke="#fff" stroke-width="2.4" stroke-linecap="butt"/>
<rect x="446.40" y="207.80" width="11.60" height="6.60" rx="0" fill="#fff" stroke="#141414" stroke-width="1.1" />
<path d="M461.6,210.0 H472.0" fill="none" stroke="#141414" stroke-width="4.8" stroke-linejoin="round" stroke-linecap="round"/>
<path d="M461.6,210.0 H472.0" fill="none" stroke="#fff" stroke-width="2.6" stroke-linejoin="round" stroke-linecap="round"/>
<rect x="465.00" y="213.60" width="7.60" height="2.80" rx="0" fill="none" stroke="#141414" stroke-width="1.0" />
<line x1="83.40" y1="213.90" x2="473.00" y2="213.90" stroke="#141414" stroke-width="1.1" />
<line x1="105.00" y1="213.20" x2="240.00" y2="213.20" stroke="#333" stroke-width="1.6" stroke-dasharray="6 2 12 1.5 3 1"/>
<line x1="268.00" y1="213.00" x2="312.00" y2="213.00" stroke="#222" stroke-width="1.8" stroke-dasharray="3 1.2"/>
<path d="M123.4,214.2 V217.6 H125.60000000000001 V216.0 H129.8 V217.6 H132.4 V214.4 M132.4,217.0 H140.0 M140.0,214.4 V217.6 H142.20000000000002 V216.0 H146.4 V217.6 H148.8 V214.2" fill="none" stroke="#141414" stroke-width="1.1" />
<path d="M403.0,214.2 V217.6 H405.2 V216.0 H409.4 V217.6 H412.0 V214.4 M412.0,217.0 H419.6 M419.6,214.4 V217.6 H421.8 V216.0 H426.0 V217.6 H428.4 V214.2" fill="none" stroke="#141414" stroke-width="1.1" />
<path d="M85.0,434.8 H471.8" fill="none" stroke="#141414" stroke-width="5.1" stroke-linejoin="round" stroke-linecap="round"/>
<path d="M85.0,434.8 H471.8" fill="none" stroke="#fff" stroke-width="2.3" stroke-linejoin="round" stroke-linecap="round"/>
<path d="M85.0,457.0 H471.8" fill="none" stroke="#141414" stroke-width="5.1" stroke-linejoin="round" stroke-linecap="round"/>
<path d="M85.0,457.0 H471.8" fill="none" stroke="#fff" stroke-width="2.3" stroke-linejoin="round" stroke-linecap="round"/>
<line x1="77.00" y1="431.00" x2="77.00" y2="455.80" stroke="#141414" stroke-width="2.4" />
<path d="M84.2,431.2 H91.5 Q93.3,431.2 93.6,432.6" fill="none" stroke="#333" stroke-width="1.6" />
<path d="M85.0,439.0 V450.0 M85.0,441.2 H91.0 M85.0,444.6 H91.0 M91.2,439.0 V449.0" fill="none" stroke="#141414" stroke-width="1.1" />
<line x1="94.20" y1="439.00" x2="94.20" y2="451.60" stroke="#141414" stroke-width="2.8" stroke-linecap="round"/>
<rect x="83.40" y="488.00" width="389.20" height="13.70" rx="1.2" fill="none" stroke="#141414" stroke-width="1.25" />
<path d="M271,487.6 Q271,486.4 272.4,486.4 H282.6 Q284,486.4 284,487.6" fill="none" stroke="#141414" stroke-width="1.3" />
<path d="M85.6,504.2 H91.6" fill="none" stroke="#141414" stroke-width="5.0" stroke-linejoin="round" stroke-linecap="round"/>
<path d="M85.6,504.2 H91.6" fill="none" stroke="#fff" stroke-width="2.8" stroke-linejoin="round" stroke-linecap="round"/>
<rect x="93.60" y="501.80" width="11.80" height="6.60" rx="0" fill="#fff" stroke="#141414" stroke-width="1.1" />
<path d="M107.8,504.0 H277.0" fill="none" stroke="#141414" stroke-width="4.6" stroke-linecap="butt"/>
<path d="M107.8,504.0 H277.0" fill="none" stroke="#fff" stroke-width="2.4" stroke-linecap="butt"/>
<path d="M279.6,504.0 H444.6" fill="none" stroke="#141414" stroke-width="4.6" stroke-linecap="butt"/>
<path d="M279.6,504.0 H444.6" fill="none" stroke="#fff" stroke-width="2.4" stroke-linecap="butt"/>
<rect x="446.40" y="501.80" width="11.60" height="6.60" rx="0" fill="#fff" stroke="#141414" stroke-width="1.1" />
<path d="M461.6,504.0 H472.0" fill="none" stroke="#141414" stroke-width="4.8" stroke-linejoin="round" stroke-linecap="round"/>
<path d="M461.6,504.0 H472.0" fill="none" stroke="#fff" stroke-width="2.6" stroke-linejoin="round" stroke-linecap="round"/>
<rect x="465.00" y="507.60" width="7.60" height="2.80" rx="0" fill="none" stroke="#141414" stroke-width="1.0" />
<line x1="83.40" y1="507.90" x2="473.00" y2="507.90" stroke="#141414" stroke-width="1.1" />
<line x1="105.00" y1="507.20" x2="240.00" y2="507.20" stroke="#333" stroke-width="1.6" stroke-dasharray="6 2 12 1.5 3 1"/>
<line x1="268.00" y1="507.00" x2="312.00" y2="507.00" stroke="#222" stroke-width="1.8" stroke-dasharray="3 1.2"/>
<path d="M123.4,508.2 V511.6 H125.60000000000001 V510.0 H129.8 V511.6 H132.4 V508.4 M132.4,511.0 H140.0 M140.0,508.4 V511.6 H142.20000000000002 V510.0 H146.4 V511.6 H148.8 V508.2" fill="none" stroke="#141414" stroke-width="1.1" />
<path d="M403.0,508.2 V511.6 H405.2 V510.0 H409.4 V511.6 H412.0 V508.4 M412.0,511.0 H419.6 M419.6,508.4 V511.6 H421.8 V510.0 H426.0 V511.6 H428.4 V508.2" fill="none" stroke="#141414" stroke-width="1.1" />
<rect x="83.40" y="214.00" width="389.60" height="26.20" rx="0" fill="none" stroke="#141414" stroke-width="1.2" />
<line x1="83.40" y1="240.20" x2="366.00" y2="240.20" stroke="#141414" stroke-width="1.9" />
<line x1="181.00" y1="214.00" x2="181.00" y2="240.20" stroke="#141414" stroke-width="2.2" />
<path d="M76.20,216.40 L78.00,214.60 L78.00,240.00 L75.20,240.00 Z" fill="none" stroke="#141414" stroke-width="1.1" />
<rect x="75.90" y="507.60" width="398.80" height="25.80" rx="0" fill="none" stroke="#141414" stroke-width="1.2" />
<line x1="75.90" y1="533.40" x2="366.00" y2="533.40" stroke="#141414" stroke-width="1.9" />
<line x1="181.00" y1="507.60" x2="181.00" y2="533.40" stroke="#141414" stroke-width="2.2" />
<line x1="78.20" y1="69.80" x2="78.20" y2="109.50" stroke="#27908f" stroke-width="1.35" />
<line x1="478.30" y1="69.80" x2="478.30" y2="109.50" stroke="#27908f" stroke-width="1.35" />
<line x1="83.20" y1="97.60" x2="83.20" y2="116.00" stroke="#27908f" stroke-width="1.35" />
<line x1="473.00" y1="97.60" x2="473.00" y2="116.00" stroke="#27908f" stroke-width="1.35" />
<line x1="78.20" y1="75.00" x2="256.60" y2="75.00" stroke="#27908f" stroke-width="1.5" />
<line x1="300.00" y1="75.00" x2="478.30" y2="75.00" stroke="#27908f" stroke-width="1.5" />
<line x1="83.20" y1="102.40" x2="262.40" y2="102.40" stroke="#27908f" stroke-width="1.5" />
<line x1="293.60" y1="102.40" x2="473.00" y2="102.40" stroke="#27908f" stroke-width="1.5" />
<path d="M78.20,75.00 L85.20,73.10 L85.20,76.90 Z" fill="#27908f" stroke="none" stroke-width="0" />
<path d="M478.30,75.00 L471.30,76.90 L471.30,73.10 Z" fill="#27908f" stroke="none" stroke-width="0" />
<path d="M83.20,102.40 L90.20,100.50 L90.20,104.30 Z" fill="#27908f" stroke="none" stroke-width="0" />
<path d="M473.00,102.40 L466.00,104.30 L466.00,100.50 Z" fill="#27908f" stroke="none" stroke-width="0" />
<g transform="translate(278.20,81.60) rotate(0) scale(0.72,1)"><text x="0" y="0" font-size="22.2" text-anchor="middle" fill="#111" stroke="#111" stroke-width="0.35">502,6</text></g>
<g transform="translate(277.80,110.00) rotate(0) scale(0.72,1)"><text x="0" y="0" font-size="22.2" text-anchor="middle" fill="#111" stroke="#111" stroke-width="0.35">491</text></g>
<line x1="75.90" y1="508.00" x2="75.90" y2="561.50" stroke="#27908f" stroke-width="1.3" />
<line x1="78.60" y1="508.00" x2="78.60" y2="561.50" stroke="#27908f" stroke-width="1.3" />
<line x1="64.40" y1="556.40" x2="95.40" y2="556.40" stroke="#27908f" stroke-width="1.45" />
<path d="M75.90,556.40 L68.90,558.30 L68.90,554.50 Z" fill="#27908f" stroke="none" stroke-width="0" />
<path d="M78.60,556.40 L85.60,554.50 L85.60,558.30 Z" fill="#27908f" stroke="none" stroke-width="0" />
<g transform="translate(112.40,563.20) rotate(0) scale(0.72,1)"><text x="0" y="0" font-size="22.2" text-anchor="middle" fill="#111" stroke="#111" stroke-width="0.35">2,88</text></g>
<rect x="567.20" y="193.30" width="116.60" height="14.30" rx="2.0" fill="#fff" stroke="#141414" stroke-width="1.5" />
<path d="M569.4,193.0 Q569.6,191.8 571.4,191.8 H583.0" fill="none" stroke="#141414" stroke-width="1.2" />
<circle cx="598.80" cy="210.60" r="3.30" fill="#fff" stroke="#141414" stroke-width="1.1"/>
<circle cx="666.00" cy="210.60" r="3.30" fill="#fff" stroke="#141414" stroke-width="1.1"/>
<path d="M600.4,210.4 H664.6" fill="none" stroke="#141414" stroke-width="4.6" stroke-linejoin="round" stroke-linecap="round"/>
<path d="M600.4,210.4 H664.6" fill="none" stroke="#fff" stroke-width="2.4" stroke-linejoin="round" stroke-linecap="round"/>
<path d="M564.0,205.0 V234.0 Q564.0,236.9 567.0,236.9 H570.8" fill="none" stroke="#141414" stroke-width="1.9" />
<line x1="566.60" y1="207.00" x2="566.60" y2="234.20" stroke="#141414" stroke-width="1.0" />
<path d="M571.6,240.2 V222.0 Q571.8,215.0 578.6,214.9 H584.0 L594.6,223.2 V239.4 H573.0 Z" fill="#fff" stroke="#141414" stroke-width="1.3" />
<path d="M573.4,240.9 H583.0" fill="none" stroke="#141414" stroke-width="1.6" />
<path d="M572.4,208.2 H594.0 M573.0,211.4 Q574.0,213.8 577.0,214.6 M586.6,214.6 L592.4,209.0 M583.6,208.6 L586.4,212.6 L593.0,208.6" fill="none" stroke="#141414" stroke-width="1.1" />
<circle cx="585.40" cy="220.00" r="0.70" fill="none" stroke="#555" stroke-width="0.8"/>
<circle cx="591.20" cy="224.60" r="0.70" fill="none" stroke="#555" stroke-width="0.8"/>
<path d="M600.1,432.6 V276.0 L623.9,254.8 V206.6 L600.1,185.6 V115.0 Q600.1,111.2 604.3000000000001,111.2 H647.0999999999999 Q651.3,111.2 651.3,115.0 V185.6 L639.4,206.6 V254.8 L651.3,276.0 V432.6" fill="none" stroke="#141414" stroke-width="5.4" stroke-linejoin="round" stroke-linecap="round"/>
<path d="M600.1,432.6 V276.0 L623.9,254.8 V206.6 L600.1,185.6 V115.0 Q600.1,111.2 604.3000000000001,111.2 H647.0999999999999 Q651.3,111.2 651.3,115.0 V185.6 L639.4,206.6 V254.8 L651.3,276.0 V432.6" fill="none" stroke="#fff" stroke-width="2.7" stroke-linejoin="round" stroke-linecap="round"/>
<path d="M570.2,141.0 H681.4" fill="none" stroke="#141414" stroke-width="5.1" stroke-linejoin="round" stroke-linecap="round"/>
<path d="M570.2,141.0 H681.4" fill="none" stroke="#fff" stroke-width="2.4" stroke-linejoin="round" stroke-linecap="round"/>
<path d="M570.2,163.2 H681.4" fill="none" stroke="#141414" stroke-width="5.1" stroke-linejoin="round" stroke-linecap="round"/>
<path d="M570.2,163.2 H681.4" fill="none" stroke="#fff" stroke-width="2.4" stroke-linejoin="round" stroke-linecap="round"/>
<line x1="625.00" y1="163.20" x2="627.00" y2="163.20" stroke="#141414" stroke-width="3.0" />
<path d="M588.5,138.4 H603.6 L605.0,136.9 H646.0 L647.4,138.4 H662.5 Q667.6,138.4 667.6,143.4 V156.4 Q667.6,161.6 662.5,161.6 H588.5 Q583.5,161.6 583.5,156.4 V143.4 Q583.5,138.4 588.5,138.4 Z" fill="#fff" stroke="#141414" stroke-width="1.5" />
<rect x="586.60" y="143.30" width="3.40" height="7.60" rx="1.7" fill="none" stroke="#141414" stroke-width="1.1" />
<circle cx="587.70" cy="156.40" r="1.50" fill="none" stroke="#141414" stroke-width="1.0"/>
<rect x="661.10" y="143.30" width="3.40" height="7.60" rx="1.7" fill="none" stroke="#141414" stroke-width="1.1" />
<circle cx="664.00" cy="156.40" r="1.50" fill="none" stroke="#141414" stroke-width="1.0"/>
<rect x="596.30" y="146.00" width="4.60" height="8.40" rx="2.3" fill="none" stroke="#141414" stroke-width="1.3" />
<line x1="598.60" y1="147.60" x2="598.60" y2="152.80" stroke="#333" stroke-width="2.0" />
<rect x="650.30" y="146.00" width="4.60" height="8.40" rx="2.3" fill="none" stroke="#141414" stroke-width="1.3" />
<line x1="652.60" y1="147.60" x2="652.60" y2="152.80" stroke="#333" stroke-width="2.0" />
<circle cx="612.80" cy="150.30" r="3.50" fill="none" stroke="#141414" stroke-width="1.2"/>
<circle cx="612.80" cy="149.00" r="1.70" fill="none" stroke="#141414" stroke-width="0.9"/>
<circle cx="638.00" cy="150.30" r="3.50" fill="none" stroke="#141414" stroke-width="1.2"/>
<circle cx="638.00" cy="149.00" r="1.70" fill="none" stroke="#141414" stroke-width="0.9"/>
<circle cx="619.90" cy="150.70" r="1.50" fill="none" stroke="#141414" stroke-width="1.0"/>
<circle cx="631.20" cy="150.70" r="1.50" fill="none" stroke="#141414" stroke-width="1.0"/>
<rect x="567.20" y="487.70" width="116.60" height="14.30" rx="2.0" fill="#fff" stroke="#141414" stroke-width="1.5" />
<path d="M569.4,487.4 Q569.6,486.2 571.4,486.2 H583.0" fill="none" stroke="#141414" stroke-width="1.2" />
<circle cx="598.80" cy="505.00" r="3.30" fill="#fff" stroke="#141414" stroke-width="1.1"/>
<circle cx="666.00" cy="505.00" r="3.30" fill="#fff" stroke="#141414" stroke-width="1.1"/>
<path d="M600.4,504.79999999999995 H664.6" fill="none" stroke="#141414" stroke-width="4.6" stroke-linejoin="round" stroke-linecap="round"/>
<path d="M600.4,504.79999999999995 H664.6" fill="none" stroke="#fff" stroke-width="2.4" stroke-linejoin="round" stroke-linecap="round"/>
<path d="M564.0,499.4 V528.4 Q564.0,531.3 567.0,531.3 H570.8" fill="none" stroke="#141414" stroke-width="1.9" />
<line x1="566.60" y1="501.40" x2="566.60" y2="528.60" stroke="#141414" stroke-width="1.0" />
<path d="M571.6,534.5999999999999 V516.4 Q571.8,509.4 578.6,509.29999999999995 H584.0 L594.6,517.5999999999999 V533.8 H573.0 Z" fill="#fff" stroke="#141414" stroke-width="1.3" />
<path d="M573.4,535.3 H583.0" fill="none" stroke="#141414" stroke-width="1.6" />
<path d="M572.4,502.59999999999997 H594.0 M573.0,505.79999999999995 Q574.0,508.2 577.0,509.0 M586.6,509.0 L592.4,503.4 M583.6,503.0 L586.4,507.0 L593.0,503.0" fill="none" stroke="#141414" stroke-width="1.1" />
<circle cx="585.40" cy="514.40" r="0.70" fill="none" stroke="#555" stroke-width="0.8"/>
<circle cx="591.20" cy="519.00" r="0.70" fill="none" stroke="#555" stroke-width="0.8"/>
<path d="M570.2,435.0 H681.4" fill="none" stroke="#141414" stroke-width="5.1" stroke-linejoin="round" stroke-linecap="round"/>
<path d="M570.2,435.0 H681.4" fill="none" stroke="#fff" stroke-width="2.4" stroke-linejoin="round" stroke-linecap="round"/>
<path d="M570.2,457.2 H681.4" fill="none" stroke="#141414" stroke-width="5.1" stroke-linejoin="round" stroke-linecap="round"/>
<path d="M570.2,457.2 H681.4" fill="none" stroke="#fff" stroke-width="2.4" stroke-linejoin="round" stroke-linecap="round"/>
<line x1="625.00" y1="457.20" x2="627.00" y2="457.20" stroke="#141414" stroke-width="3.0" />
<path d="M588.5,432.4 H603.6 L605.0,430.9 H646.0 L647.4,432.4 H662.5 Q667.6,432.4 667.6,437.4 V450.4 Q667.6,455.6 662.5,455.6 H588.5 Q583.5,455.6 583.5,450.4 V437.4 Q583.5,432.4 588.5,432.4 Z" fill="#fff" stroke="#141414" stroke-width="1.5" />
<rect x="586.60" y="437.30" width="3.40" height="7.60" rx="1.7" fill="none" stroke="#141414" stroke-width="1.1" />
<circle cx="587.70" cy="450.40" r="1.50" fill="none" stroke="#141414" stroke-width="1.0"/>
<rect x="661.10" y="437.30" width="3.40" height="7.60" rx="1.7" fill="none" stroke="#141414" stroke-width="1.1" />
<circle cx="664.00" cy="450.40" r="1.50" fill="none" stroke="#141414" stroke-width="1.0"/>
<rect x="596.30" y="440.00" width="4.60" height="8.40" rx="2.3" fill="none" stroke="#141414" stroke-width="1.3" />
<line x1="598.60" y1="441.60" x2="598.60" y2="446.80" stroke="#333" stroke-width="2.0" />
<rect x="650.30" y="440.00" width="4.60" height="8.40" rx="2.3" fill="none" stroke="#141414" stroke-width="1.3" />
<line x1="652.60" y1="441.60" x2="652.60" y2="446.80" stroke="#333" stroke-width="2.0" />
<circle cx="612.80" cy="444.30" r="3.50" fill="none" stroke="#141414" stroke-width="1.2"/>
<circle cx="612.80" cy="443.00" r="1.70" fill="none" stroke="#141414" stroke-width="0.9"/>
<circle cx="638.00" cy="444.30" r="3.50" fill="none" stroke="#141414" stroke-width="1.2"/>
<circle cx="638.00" cy="443.00" r="1.70" fill="none" stroke="#141414" stroke-width="0.9"/>
<circle cx="619.90" cy="444.70" r="1.50" fill="none" stroke="#141414" stroke-width="1.0"/>
<circle cx="631.20" cy="444.70" r="1.50" fill="none" stroke="#141414" stroke-width="1.0"/>
<path d="M601.5,456.6 L623.9,473.4 V506.6 M649.9,456.6 L639.4,473.4 V506.6" fill="none" stroke="#141414" stroke-width="5.4" stroke-linejoin="round" stroke-linecap="butt"/>
<path d="M601.5,456.6 L623.9,473.4 V506.6 M649.9,456.6 L639.4,473.4 V506.6" fill="none" stroke="#fff" stroke-width="2.7" stroke-linejoin="round" stroke-linecap="butt"/>
<line x1="645.80" y1="108.80" x2="731.00" y2="108.80" stroke="#27908f" stroke-width="1.5" />
<line x1="526.80" y1="534.70" x2="731.00" y2="534.70" stroke="#27908f" stroke-width="1.5" />
<line x1="726.30" y1="108.80" x2="726.30" y2="295.00" stroke="#27908f" stroke-width="1.5" />
<line x1="726.30" y1="349.00" x2="726.30" y2="534.70" stroke="#27908f" stroke-width="1.5" />
<path d="M726.30,108.80 L728.20,115.80 L724.40,115.80 Z" fill="#27908f" stroke="none" stroke-width="0" />
<path d="M726.30,534.70 L724.40,527.70 L728.20,527.70 Z" fill="#27908f" stroke="none" stroke-width="0" />
<g transform="translate(733.30,322.00) rotate(-90) scale(0.72,1)"><text x="0" y="0" font-size="22.2" text-anchor="middle" fill="#111" stroke="#111" stroke-width="0.35">535,99</text></g>
<line x1="526.80" y1="240.60" x2="578.00" y2="240.60" stroke="#27908f" stroke-width="1.5" />
<line x1="531.60" y1="240.60" x2="531.60" y2="372.00" stroke="#27908f" stroke-width="1.5" />
<line x1="531.60" y1="403.00" x2="531.60" y2="534.70" stroke="#27908f" stroke-width="1.5" />
<path d="M531.60,240.60 L533.50,247.60 L529.70,247.60 Z" fill="#27908f" stroke="none" stroke-width="0" />
<path d="M531.60,534.70 L529.70,527.70 L533.50,527.70 Z" fill="#27908f" stroke="none" stroke-width="0" />
<g transform="translate(538.80,388.00) rotate(-90) scale(0.72,1)"><text x="0" y="0" font-size="22.2" text-anchor="middle" fill="#111" stroke="#111" stroke-width="0.35">370</text></g>
<line x1="563.50" y1="467.40" x2="563.50" y2="582.80" stroke="#27908f" stroke-width="1.35" />
<line x1="568.20" y1="467.40" x2="568.20" y2="488.00" stroke="#27908f" stroke-width="1.35" />
<line x1="552.00" y1="472.00" x2="578.60" y2="472.00" stroke="#27908f" stroke-width="1.45" />
<path d="M563.50,472.00 L556.50,473.90 L556.50,470.10 Z" fill="#27908f" stroke="none" stroke-width="0" />
<path d="M568.20,472.00 L575.20,470.10 L575.20,473.90 Z" fill="#27908f" stroke="none" stroke-width="0" />
<g transform="translate(585.00,479.20) rotate(0) scale(0.72,1)"><text x="0" y="0" font-size="22.2" text-anchor="middle" fill="#111" stroke="#111" stroke-width="0.35">8</text></g>
<line x1="683.40" y1="498.00" x2="683.40" y2="582.80" stroke="#27908f" stroke-width="1.35" />
<line x1="563.50" y1="578.30" x2="609.80" y2="578.30" stroke="#27908f" stroke-width="1.5" />
<line x1="639.60" y1="578.30" x2="683.40" y2="578.30" stroke="#27908f" stroke-width="1.5" />
<path d="M563.50,578.30 L570.50,576.40 L570.50,580.20 Z" fill="#27908f" stroke="none" stroke-width="0" />
<path d="M683.40,578.30 L676.40,580.20 L676.40,576.40 Z" fill="#27908f" stroke="none" stroke-width="0" />
<g transform="translate(625.00,585.40) rotate(0) scale(0.72,1)"><text x="0" y="0" font-size="22.2" text-anchor="middle" fill="#111" stroke="#111" stroke-width="0.35">153</text></g>
<path d="M82.6,622.8 V618.2 H364.6 V622.0" fill="none" stroke="#141414" stroke-width="1.5" />
<path d="M110.8,622.4 Q112.6,619.2 114.39999999999999,622.4" fill="none" stroke="#141414" stroke-width="1.0" />
<path d="M127.39999999999999,622.4 Q129.2,619.2 131.0,622.4" fill="none" stroke="#141414" stroke-width="1.0" />
<path d="M324.2,622.4 Q326.0,619.2 327.8,622.4" fill="none" stroke="#141414" stroke-width="1.0" />
<path d="M340.8,622.4 Q342.6,619.2 344.40000000000003,622.4" fill="none" stroke="#141414" stroke-width="1.0" />
<line x1="76.60" y1="638.00" x2="76.60" y2="722.60" stroke="#141414" stroke-width="1.8" />
<path d="M77.0,627.0 Q77.4,625.6 79.4,625.4 H83.0 M77.2,627.0 V649.0 M78.8,629.0 V648.0" fill="none" stroke="#141414" stroke-width="1.0" />
<rect x="78.20" y="653.00" width="5.20" height="55.20" rx="2.6" fill="#fff" stroke="#141414" stroke-width="1.2" />
<rect x="472.90" y="653.00" width="4.80" height="55.20" rx="2.2" fill="#fff" stroke="#141414" stroke-width="1.2" />
<path d="M473.6,628.0 Q475.4,629.0 475.0,632.0 V649.0" fill="none" stroke="#141414" stroke-width="1.0" />
<rect x="82.50" y="622.80" width="391.70" height="115.60" rx="6.2" fill="#fff" stroke="#141414" stroke-width="1.7" />
<rect x="86.80" y="627.50" width="383.00" height="106.80" rx="4.4" fill="none" stroke="#141414" stroke-width="1.5" />
<path d="M87.2,632.4 Q88.2,628.8 92.0,627.9 M469.4,632.4 Q468.4,628.8 464.6,627.9 M87.2,729.4 Q88.2,733.0 92.0,733.9 M469.4,729.4 Q468.4,733.0 464.6,733.9" fill="none" stroke="#444" stroke-width="0.9" />
<rect x="83.40" y="659.00" width="10.80" height="43.00" rx="0" fill="#fff" stroke="#141414" stroke-width="1.2" />
<path d="M94.4,672.0 Q96.4,680.5 94.4,689.0" fill="none" stroke="#141414" stroke-width="1.6" />
<path d="M271.5,627.6 V638.0 Q271.5,639.6 273.0,639.6 H282.4 Q283.9,639.6 283.9,638.0 V627.6" fill="none" stroke="#141414" stroke-width="1.1" />
<path d="M271.0,623.0 Q277.6,620.6 284.4,623.0" fill="none" stroke="#444" stroke-width="1.0" />
<rect x="1055.00" y="573.00" width="312.20" height="250.00" rx="0" fill="#fff" stroke="none" stroke-width="0" />
<rect x="47.60" y="47.00" width="1319.60" height="905.00" rx="0" fill="none" stroke="#141414" stroke-width="1.5" />
<line x1="707.60" y1="0.00" x2="707.60" y2="47.00" stroke="#141414" stroke-width="1.5" />
<path d="M693.30,23.30 L721.80,23.30 L707.60,47.00 Z" fill="none" stroke="#141414" stroke-width="1.5" />
<line x1="707.60" y1="952.00" x2="707.60" y2="1000.00" stroke="#141414" stroke-width="1.5" />
<path d="M693.40,976.00 L721.70,976.00 L707.60,952.00 Z" fill="none" stroke="#141414" stroke-width="1.5" />
<line x1="0.00" y1="499.50" x2="47.60" y2="499.50" stroke="#141414" stroke-width="1.5" />
<path d="M24.00,485.70 L24.00,513.30 L47.60,499.50 Z" fill="none" stroke="#141414" stroke-width="1.5" />
<line x1="1367.20" y1="499.50" x2="1415.00" y2="499.50" stroke="#141414" stroke-width="1.5" />
<path d="M1390.80,485.70 L1390.80,513.30 L1367.20,499.50 Z" fill="none" stroke="#141414" stroke-width="1.5" />
<line x1="47.60" y1="857.00" x2="707.90" y2="857.00" stroke="#141414" stroke-width="1.3" />
<line x1="150.20" y1="857.00" x2="150.20" y2="952.00" stroke="#141414" stroke-width="1.3" />
<line x1="252.70" y1="857.00" x2="252.70" y2="952.00" stroke="#141414" stroke-width="1.3" />
<line x1="319.10" y1="857.00" x2="319.10" y2="952.00" stroke="#141414" stroke-width="1.3" />
<line x1="385.70" y1="857.00" x2="385.70" y2="952.00" stroke="#141414" stroke-width="1.3" />
<line x1="462.40" y1="857.00" x2="462.40" y2="952.00" stroke="#141414" stroke-width="1.3" />
<line x1="538.20" y1="857.00" x2="538.20" y2="952.00" stroke="#141414" stroke-width="1.3" />
<line x1="629.00" y1="857.00" x2="629.00" y2="952.00" stroke="#141414" stroke-width="1.3" />
<line x1="707.90" y1="857.00" x2="707.90" y2="952.00" stroke="#141414" stroke-width="1.3" />
<line x1="252.70" y1="905.00" x2="707.90" y2="905.00" stroke="#141414" stroke-width="1.3" />
<circle cx="65.40" cy="892.80" r="12.90" fill="none" stroke="#141414" stroke-width="1.5"/>
<text x="65.60" y="900.20" font-size="20.5" text-anchor="middle" fill="#141414" font-weight="normal" >R</text>
<text x="117.60" y="901.60" font-size="16.5" text-anchor="middle" fill="#141414" font-weight="normal" textLength="58.60" lengthAdjust="spacingAndGlyphs" >QUOTA</text>
<text x="98.60" y="930.40" font-size="16.5" text-anchor="middle" fill="#141414" font-weight="normal" textLength="101.60" lengthAdjust="spacingAndGlyphs" >CONTROLLO</text>
<text x="201.60" y="888.40" font-size="15.3" text-anchor="middle" fill="#141414" font-weight="normal" textLength="99.00" lengthAdjust="spacingAndGlyphs" >TOLLERANZE</text>
<text x="201.80" y="904.90" font-size="15.3" text-anchor="middle" fill="#141414" font-weight="normal" textLength="75.50" lengthAdjust="spacingAndGlyphs" >GENERALI</text>
<text x="201.50" y="931.20" font-size="15.0" text-anchor="middle" fill="#141414" font-weight="normal" textLength="89.00" lengthAdjust="spacingAndGlyphs" >LINEARI E Ø</text>
<text x="258.20" y="887.20" font-size="16" text-anchor="start" fill="#141414" font-weight="normal" >0</text>
<text x="312.30" y="887.20" font-size="16" text-anchor="end" fill="#141414" font-weight="normal" >6</text>
<path d="M274.50,886.00 L293.00,878.60 L293.00,886.00 Z" fill="none" stroke="#141414" stroke-width="1.2" />
<text x="323.20" y="887.20" font-size="16" text-anchor="start" fill="#141414" font-weight="normal" >6</text>
<text x="382.50" y="887.20" font-size="16" text-anchor="end" fill="#141414" font-weight="normal" >30</text>
<path d="M339.80,886.00 L358.00,878.60 L358.00,886.00 Z" fill="none" stroke="#141414" stroke-width="1.2" />
<text x="390.00" y="887.20" font-size="16" text-anchor="start" fill="#141414" font-weight="normal" >30</text>
<text x="458.50" y="887.20" font-size="16" text-anchor="end" fill="#141414" font-weight="normal" >100</text>
<path d="M411.00,886.00 L429.50,878.60 L429.50,886.00 Z" fill="none" stroke="#141414" stroke-width="1.2" />
<text x="463.00" y="887.20" font-size="16" text-anchor="start" fill="#141414" font-weight="normal" >100</text>
<text x="537.50" y="887.20" font-size="16" text-anchor="end" fill="#141414" font-weight="normal" >300</text>
<path d="M490.00,886.00 L508.50,878.60 L508.50,886.00 Z" fill="none" stroke="#141414" stroke-width="1.2" />
<text x="540.60" y="887.20" font-size="16" text-anchor="start" fill="#141414" font-weight="normal" >300</text>
<text x="626.50" y="887.20" font-size="16" text-anchor="end" fill="#141414" font-weight="normal" >1000</text>
<path d="M571.00,886.00 L589.00,878.60 L589.00,886.00 Z" fill="none" stroke="#141414" stroke-width="1.2" />
<text x="668.00" y="887.20" font-size="16.3" text-anchor="middle" fill="#141414" font-weight="normal" textLength="70.50" lengthAdjust="spacingAndGlyphs" >ANGOLO</text>
<text x="259.80" y="935.50" font-size="22.0" text-anchor="start" fill="#141414" font-weight="normal" >±</text>
<text x="309.80" y="935.50" font-size="19.6" text-anchor="end" fill="#141414" font-weight="normal" >0.1</text>
<text x="326.40" y="935.50" font-size="22.0" text-anchor="start" fill="#141414" font-weight="normal" >±</text>
<text x="378.00" y="935.50" font-size="19.6" text-anchor="end" fill="#141414" font-weight="normal" >0.2</text>
<text x="400.00" y="935.50" font-size="22.0" text-anchor="start" fill="#141414" font-weight="normal" >±</text>
<text x="445.90" y="935.50" font-size="19.6" text-anchor="end" fill="#141414" font-weight="normal" >0.3</text>
<text x="477.60" y="935.50" font-size="22.0" text-anchor="start" fill="#141414" font-weight="normal" >±</text>
<text x="522.80" y="935.50" font-size="19.6" text-anchor="end" fill="#141414" font-weight="normal" >0.5</text>
<text x="560.80" y="935.50" font-size="22.0" text-anchor="start" fill="#141414" font-weight="normal" >±</text>
<text x="606.20" y="935.50" font-size="19.6" text-anchor="end" fill="#141414" font-weight="normal" >1.0</text>
<text x="639.80" y="935.50" font-size="22.0" text-anchor="start" fill="#141414" font-weight="normal" >±</text>
<text x="693.20" y="935.50" font-size="19.6" text-anchor="end" fill="#141414" font-weight="normal" >0.5°</text>
<rect x="1054.90" y="572.70" width="312.30" height="250.60" rx="0" fill="none" stroke="#141414" stroke-width="1.4" />
<line x1="1054.90" y1="593.20" x2="1367.20" y2="593.20" stroke="#141414" stroke-width="1.3" />
<line x1="1054.90" y1="614.00" x2="1367.20" y2="614.00" stroke="#141414" stroke-width="1.3" />
<line x1="1054.90" y1="634.93" x2="1367.20" y2="634.93" stroke="#141414" stroke-width="1.3" />
<line x1="1054.90" y1="655.86" x2="1367.20" y2="655.86" stroke="#141414" stroke-width="1.3" />
<line x1="1054.90" y1="676.79" x2="1367.20" y2="676.79" stroke="#141414" stroke-width="1.3" />
<line x1="1054.90" y1="697.72" x2="1367.20" y2="697.72" stroke="#141414" stroke-width="1.3" />
<line x1="1054.90" y1="718.65" x2="1367.20" y2="718.65" stroke="#141414" stroke-width="1.3" />
<line x1="1054.90" y1="739.58" x2="1367.20" y2="739.58" stroke="#141414" stroke-width="1.3" />
<line x1="1054.90" y1="760.51" x2="1367.20" y2="760.51" stroke="#141414" stroke-width="1.3" />
<line x1="1054.90" y1="781.44" x2="1367.20" y2="781.44" stroke="#141414" stroke-width="1.3" />
<line x1="1054.90" y1="802.37" x2="1367.20" y2="802.37" stroke="#141414" stroke-width="1.3" />
<line x1="1102.70" y1="593.20" x2="1102.70" y2="823.30" stroke="#141414" stroke-width="1.3" />
<line x1="1159.60" y1="593.20" x2="1159.60" y2="823.30" stroke="#141414" stroke-width="1.3" />
<line x1="1295.50" y1="593.20" x2="1295.50" y2="823.30" stroke="#141414" stroke-width="1.3" />
<text x="1211.05" y="587.80" font-size="13.2" text-anchor="middle" fill="#141414" font-weight="normal" >Elenco parti</text>
<text x="1078.80" y="608.80" font-size="13.3" text-anchor="middle" fill="#141414" font-weight="normal" >ELEM</text>
<text x="1131.15" y="609.40" font-size="13.3" text-anchor="middle" fill="#141414" font-weight="normal" >QTÀ</text>
<text x="1227.55" y="608.80" font-size="13.3" text-anchor="middle" fill="#141414" font-weight="normal" >CODICE</text>
<text x="1331.35" y="608.80" font-size="13.3" text-anchor="middle" fill="#141414" font-weight="normal" >MASSA</text>
<text x="1078.80" y="629.60" font-size="13.3" text-anchor="middle" fill="#141414" font-weight="normal" >1</text>
<text x="1131.15" y="629.60" font-size="13.3" text-anchor="middle" fill="#141414" font-weight="normal" >8</text>
<text x="1227.55" y="629.60" font-size="13.3" text-anchor="middle" fill="#141414" font-weight="normal" >WBAAPAV</text>
<text x="1331.35" y="629.60" font-size="13.3" text-anchor="middle" fill="#141414" font-weight="normal" >0,002 kg</text>
<text x="1078.80" y="650.53" font-size="13.3" text-anchor="middle" fill="#141414" font-weight="normal" >2</text>
<text x="1131.15" y="650.53" font-size="13.3" text-anchor="middle" fill="#141414" font-weight="normal" >4</text>
<text x="1227.55" y="650.53" font-size="13.3" text-anchor="middle" fill="#141414" font-weight="normal" >1100APLAV</text>
<text x="1331.35" y="650.53" font-size="13.3" text-anchor="middle" fill="#141414" font-weight="normal" >0,005 kg</text>
<text x="1078.80" y="671.46" font-size="13.3" text-anchor="middle" fill="#141414" font-weight="normal" >3</text>
<text x="1131.15" y="671.46" font-size="13.3" text-anchor="middle" fill="#141414" font-weight="normal" >4</text>
<text x="1227.55" y="671.46" font-size="13.3" text-anchor="middle" fill="#141414" font-weight="normal" >1100ACGHLAV</text>
<text x="1331.35" y="671.46" font-size="13.3" text-anchor="middle" fill="#141414" font-weight="normal" >0,005 kg</text>
<text x="1078.80" y="692.39" font-size="13.3" text-anchor="middle" fill="#141414" font-weight="normal" >4</text>
<text x="1131.15" y="692.39" font-size="13.3" text-anchor="middle" fill="#141414" font-weight="normal" >1</text>
<text x="1227.55" y="692.39" font-size="13.3" text-anchor="middle" fill="#141414" font-weight="normal" >4104WGRE2050</text>
<text x="1331.35" y="692.39" font-size="13.3" text-anchor="middle" fill="#141414" font-weight="normal" >1,988 kg</text>
<text x="1078.80" y="713.32" font-size="13.3" text-anchor="middle" fill="#141414" font-weight="normal" >5</text>
<text x="1131.15" y="713.32" font-size="13.3" text-anchor="middle" fill="#141414" font-weight="normal" >2</text>
<text x="1227.55" y="713.32" font-size="13.3" text-anchor="middle" fill="#141414" font-weight="normal" >4104WP2050</text>
<text x="1331.35" y="713.32" font-size="13.3" text-anchor="middle" fill="#141414" font-weight="normal" >0,855 kg</text>
<text x="1078.80" y="734.25" font-size="13.3" text-anchor="middle" fill="#141414" font-weight="normal" >6</text>
<text x="1131.15" y="734.25" font-size="13.3" text-anchor="middle" fill="#141414" font-weight="normal" >2</text>
<text x="1227.55" y="734.25" font-size="13.3" text-anchor="middle" fill="#141414" font-weight="normal" >HETTICH-500-SX</text>
<text x="1331.35" y="734.25" font-size="13.3" text-anchor="middle" fill="#141414" font-weight="normal" >0,278 kg</text>
<text x="1078.80" y="755.18" font-size="13.3" text-anchor="middle" fill="#141414" font-weight="normal" >7</text>
<text x="1131.15" y="755.18" font-size="13.3" text-anchor="middle" fill="#141414" font-weight="normal" >2</text>
<text x="1227.55" y="755.18" font-size="13.3" text-anchor="middle" fill="#141414" font-weight="normal" >4100CGQHS500</text>
<text x="1331.35" y="755.18" font-size="13.3" text-anchor="middle" fill="#141414" font-weight="normal" >0,080 kg</text>
<text x="1078.80" y="776.11" font-size="13.3" text-anchor="middle" fill="#141414" font-weight="normal" >8</text>
<text x="1131.15" y="776.11" font-size="13.3" text-anchor="middle" fill="#141414" font-weight="normal" >2</text>
<text x="1227.55" y="776.11" font-size="13.3" text-anchor="middle" fill="#141414" font-weight="normal" >1104PJUZ</text>
<text x="1331.35" y="776.11" font-size="13.3" text-anchor="middle" fill="#141414" font-weight="normal" >0,071 kg</text>
<text x="1078.80" y="797.04" font-size="13.3" text-anchor="middle" fill="#141414" font-weight="normal" >9</text>
<text x="1131.15" y="797.04" font-size="13.3" text-anchor="middle" fill="#141414" font-weight="normal" >4</text>
<text x="1227.55" y="797.04" font-size="13.3" text-anchor="middle" fill="#141414" font-weight="normal" >V805</text>
<text x="1331.35" y="797.04" font-size="13.3" text-anchor="middle" fill="#141414" font-weight="normal" >0,004 kg</text>
<text x="1078.80" y="817.97" font-size="13.3" text-anchor="middle" fill="#141414" font-weight="normal" >10</text>
<text x="1131.15" y="817.97" font-size="13.3" text-anchor="middle" fill="#141414" font-weight="normal" >2</text>
<text x="1227.55" y="817.97" font-size="13.3" text-anchor="middle" fill="#141414" font-weight="normal" >V1100</text>
<text x="1331.35" y="817.97" font-size="13.3" text-anchor="middle" fill="#141414" font-weight="normal" >0,005 kg</text>
<line x1="713.00" y1="823.00" x2="1367.20" y2="823.00" stroke="#141414" stroke-width="1.4" />
<line x1="713.00" y1="823.00" x2="713.00" y2="952.00" stroke="#141414" stroke-width="1.4" />
<line x1="713.00" y1="862.90" x2="1367.20" y2="862.90" stroke="#141414" stroke-width="1.3" />
<line x1="914.30" y1="908.00" x2="1367.20" y2="908.00" stroke="#141414" stroke-width="1.3" />
<line x1="914.30" y1="823.00" x2="914.30" y2="952.00" stroke="#141414" stroke-width="1.3" />
<line x1="1068.60" y1="823.00" x2="1068.60" y2="908.00" stroke="#141414" stroke-width="1.3" />
<line x1="1175.70" y1="823.00" x2="1175.70" y2="862.90" stroke="#141414" stroke-width="1.3" />
<line x1="1274.70" y1="823.00" x2="1274.70" y2="908.00" stroke="#141414" stroke-width="1.3" />
<line x1="1221.90" y1="908.00" x2="1221.90" y2="952.00" stroke="#141414" stroke-width="1.3" />
<line x1="1282.90" y1="908.00" x2="1282.90" y2="952.00" stroke="#141414" stroke-width="1.3" />
<text x="716.80" y="835.00" font-size="13.3" text-anchor="start" fill="#141414" font-weight="normal" >Responsabile:</text>
<text x="814.50" y="860.20" font-size="13.3" text-anchor="middle" fill="#141414" font-weight="normal" >Roberto Trombettoni</text>
<text x="922.00" y="838.00" font-size="12.6" text-anchor="start" fill="#141414" font-weight="normal" xml:space="preserve">Redatto  da</text>
<text x="993.50" y="859.60" font-size="13.4" text-anchor="middle" fill="#141414" font-weight="normal" >Emanuele Silvi</text>
<text x="1120.00" y="836.60" font-size="12.6" text-anchor="middle" fill="#141414" font-weight="normal" >Data</text>
<text x="1127.00" y="858.30" font-size="13.5" text-anchor="middle" fill="#141414" font-weight="normal" >01/03/2011</text>
<text x="1222.00" y="838.60" font-size="11.6" text-anchor="middle" fill="#141414" font-weight="normal" >SCALA</text>
<text x="1320.50" y="837.00" font-size="12.6" text-anchor="middle" fill="#141414" font-weight="normal" >Materiale</text>
<text x="991.50" y="877.60" font-size="13.4" text-anchor="middle" fill="#141414" font-weight="normal" >DISEGNO - FILE</text>
<text x="991.50" y="899.30" font-size="16.7" text-anchor="middle" fill="#141414" font-weight="bold" >4104W-2050.idw</text>
<text x="1171.00" y="877.20" font-size="13.4" text-anchor="middle" fill="#141414" font-weight="normal" >CODICE DISEGNO</text>
<text x="1171.30" y="901.50" font-size="20.1" text-anchor="middle" fill="#141414" font-weight="bold" >4104W-2050</text>
<text x="1323.00" y="877.30" font-size="12.9" text-anchor="middle" fill="#141414" font-weight="normal" >Colore Master</text>
<text x="923.60" y="923.00" font-size="12.6" text-anchor="start" fill="#141414" font-weight="normal" >Descrizione</text>
<text x="922.30" y="944.60" font-size="13.5" text-anchor="start" fill="#141414" font-weight="normal" >4104W JOLLY LEGNO 20-50</text>
<text x="1253.70" y="918.40" font-size="9.9" text-anchor="middle" fill="#141414" font-weight="normal" >REVISIONE</text>
<text x="1251.80" y="935.00" font-size="12.6" text-anchor="middle" fill="#141414" font-weight="normal" >0</text>
<text x="1322.80" y="922.30" font-size="12.6" text-anchor="middle" fill="#141414" font-weight="normal" >Foglio</text>
<text x="1313.20" y="947.20" font-size="12.6" text-anchor="middle" fill="#141414" font-weight="bold" >1</text>
<text x="1324.50" y="947.60" font-size="12.6" text-anchor="middle" fill="#141414" font-weight="normal" >/</text>
<text x="1340.00" y="947.20" font-size="12.6" text-anchor="middle" fill="#141414" font-weight="normal" >1</text>
<rect x="713.90" y="864.30" width="200.00" height="87.60" rx="0" fill="#fff" stroke="#2e4286" stroke-width="1.8" />
<rect x="713.90" y="920.00" width="200.00" height="32.00" rx="0" fill="#2e4286" stroke="#2e4286" stroke-width="1.0" />
<path d="M725.90,879.80 L737.30,879.80 L737.30,907.20 L725.40,907.20 Z" fill="#a7324a" stroke="none" stroke-width="0" />
<path d="M742.20,879.80 L757.50,879.80 L771.60,898.20 L771.60,879.80 L783.60,879.80 L783.60,907.20 L769.00,907.20 L754.40,889.30 L754.40,907.20 L741.90,907.20 Z" fill="#a7324a" stroke="none" stroke-width="0" />
<path fill-rule="evenodd" fill="#a7324a" d="M807.8,879.4 C822,879.4 829.6,884.3 829.6,893.5 C829.6,902.7 822,907.6 807.8,907.6 C793.6,907.6 786,902.7 786,893.5 C786,884.3 793.6,879.4 807.8,879.4 Z M807.8,887.4 C799.5,887.4 796.2,890.0999999999999 796.2,893.5 C796.2,896.9000000000001 799.5,899.6 807.8,899.6 C816.1,899.6 819.4,896.9000000000001 819.4,893.5 C819.4,890.0999999999999 816.1,887.4 807.8,887.4 Z"/>
<path d="M826.60,879.80 L843.40,879.80 L848.60,888.00 L853.80,879.80 L866.80,879.80 L855.60,892.90 L869.60,907.20 L852.60,907.20 L846.80,898.60 L839.00,907.20 L824.20,907.20 L839.60,893.90 Z" fill="#a7324a" stroke="none" stroke-width="0" />
<path fill-rule="evenodd" fill="#a7324a" d="M878.6,879.8 L892.0,879.8 L906.0,907.2 L893.2,907.2 L890.8,901.6 L878.0,901.6 L875.4,907.2 L864.3,907.2 Z M884.6,887.0 L880.6,895.6 L888.6,895.6 Z"/>
<text x="814.20" y="942.50" font-size="20.0" text-anchor="middle" fill="#fff" font-weight="normal" textLength="184.00" lengthAdjust="spacingAndGlyphs" >INDUSTRIE</text>
<path d="M1173.6,47.0 V285.8 H1367.2" fill="none" stroke="#222" stroke-width="1.4" stroke-dasharray="1.4 2.2"/>
<rect x="1207.00" y="52.00" width="9.60" height="15.00" rx="0" fill="none" stroke="#6a6af5" stroke-width="0.9" />
<rect x="1218.60" y="52.00" width="9.60" height="15.00" rx="0" fill="none" stroke="#6a6af5" stroke-width="0.9" />
<rect x="1230.20" y="52.00" width="9.60" height="15.00" rx="0" fill="none" stroke="#6a6af5" stroke-width="0.9" />
<rect x="1241.80" y="52.00" width="9.60" height="15.00" rx="0" fill="none" stroke="#6a6af5" stroke-width="0.9" />
<rect x="1253.40" y="52.00" width="9.60" height="15.00" rx="0" fill="none" stroke="#6a6af5" stroke-width="0.9" />
<rect x="1265.00" y="52.00" width="9.60" height="15.00" rx="0" fill="none" stroke="#6a6af5" stroke-width="0.9" />
<rect x="1276.60" y="52.00" width="9.60" height="15.00" rx="0" fill="none" stroke="#6a6af5" stroke-width="0.9" />
<rect x="1288.20" y="52.00" width="9.60" height="15.00" rx="0" fill="none" stroke="#6a6af5" stroke-width="0.9" />
<rect x="1299.80" y="52.00" width="9.60" height="15.00" rx="0" fill="none" stroke="#6a6af5" stroke-width="0.9" />
<rect x="1311.40" y="52.00" width="9.60" height="15.00" rx="0" fill="none" stroke="#6a6af5" stroke-width="0.9" />
<text x="1270.00" y="89.50" font-size="13.4" text-anchor="middle" fill="#1a1af0" font-weight="bold" textLength="131.80" lengthAdjust="spacingAndGlyphs" stroke="#1a1af0" stroke-width="0.5">UFFICIO TECNICO</text>
<g transform="translate(1270.3,122.7) scale(1.28,1)"><text x="0" y="0" font-size="14.4" text-anchor="middle" fill="#1a1af0" textLength="57.34" lengthAdjust="spacing">COPIA</text></g>
<g transform="translate(1270.2,140.1) scale(1.28,1)"><text x="0" y="0" font-size="14.4" text-anchor="middle" fill="#1a1af0" textLength="108.36" lengthAdjust="spacing">CONFORME</text></g>
<text x="1270.00" y="156.60" font-size="13.2" text-anchor="middle" fill="#1a1af0" font-weight="normal" textLength="119.40" lengthAdjust="spacingAndGlyphs" stroke="#1a1af0" stroke-width="0.25">annulla e sostituisce</text>
<text x="1269.80" y="171.00" font-size="13.2" text-anchor="middle" fill="#1a1af0" font-weight="normal" textLength="75.50" lengthAdjust="spacingAndGlyphs" stroke="#1a1af0" stroke-width="0.25">il precedente</text>
<text x="1180.20" y="217.00" font-size="13.5" text-anchor="start" fill="#1a1af0" font-weight="normal" textLength="35.20" lengthAdjust="spacingAndGlyphs" >DATA</text>
<text x="1294.50" y="215.70" font-size="21.8" text-anchor="middle" fill="#0a0a0a" font-weight="bold" textLength="114.50" lengthAdjust="spacingAndGlyphs" >01/03/2011</text>
<line x1="1219.30" y1="218.80" x2="1359.50" y2="218.80" stroke="#1a1af0" stroke-width="1.3" />
<text x="1176.80" y="276.30" font-size="13.2" text-anchor="start" fill="#1a1af0" font-weight="normal" textLength="40.80" lengthAdjust="spacingAndGlyphs" >FIRMA</text>
<line x1="1222.40" y1="278.10" x2="1363.00" y2="278.10" stroke="#1a1af0" stroke-width="1.3" />
</svg>
</body></html>
